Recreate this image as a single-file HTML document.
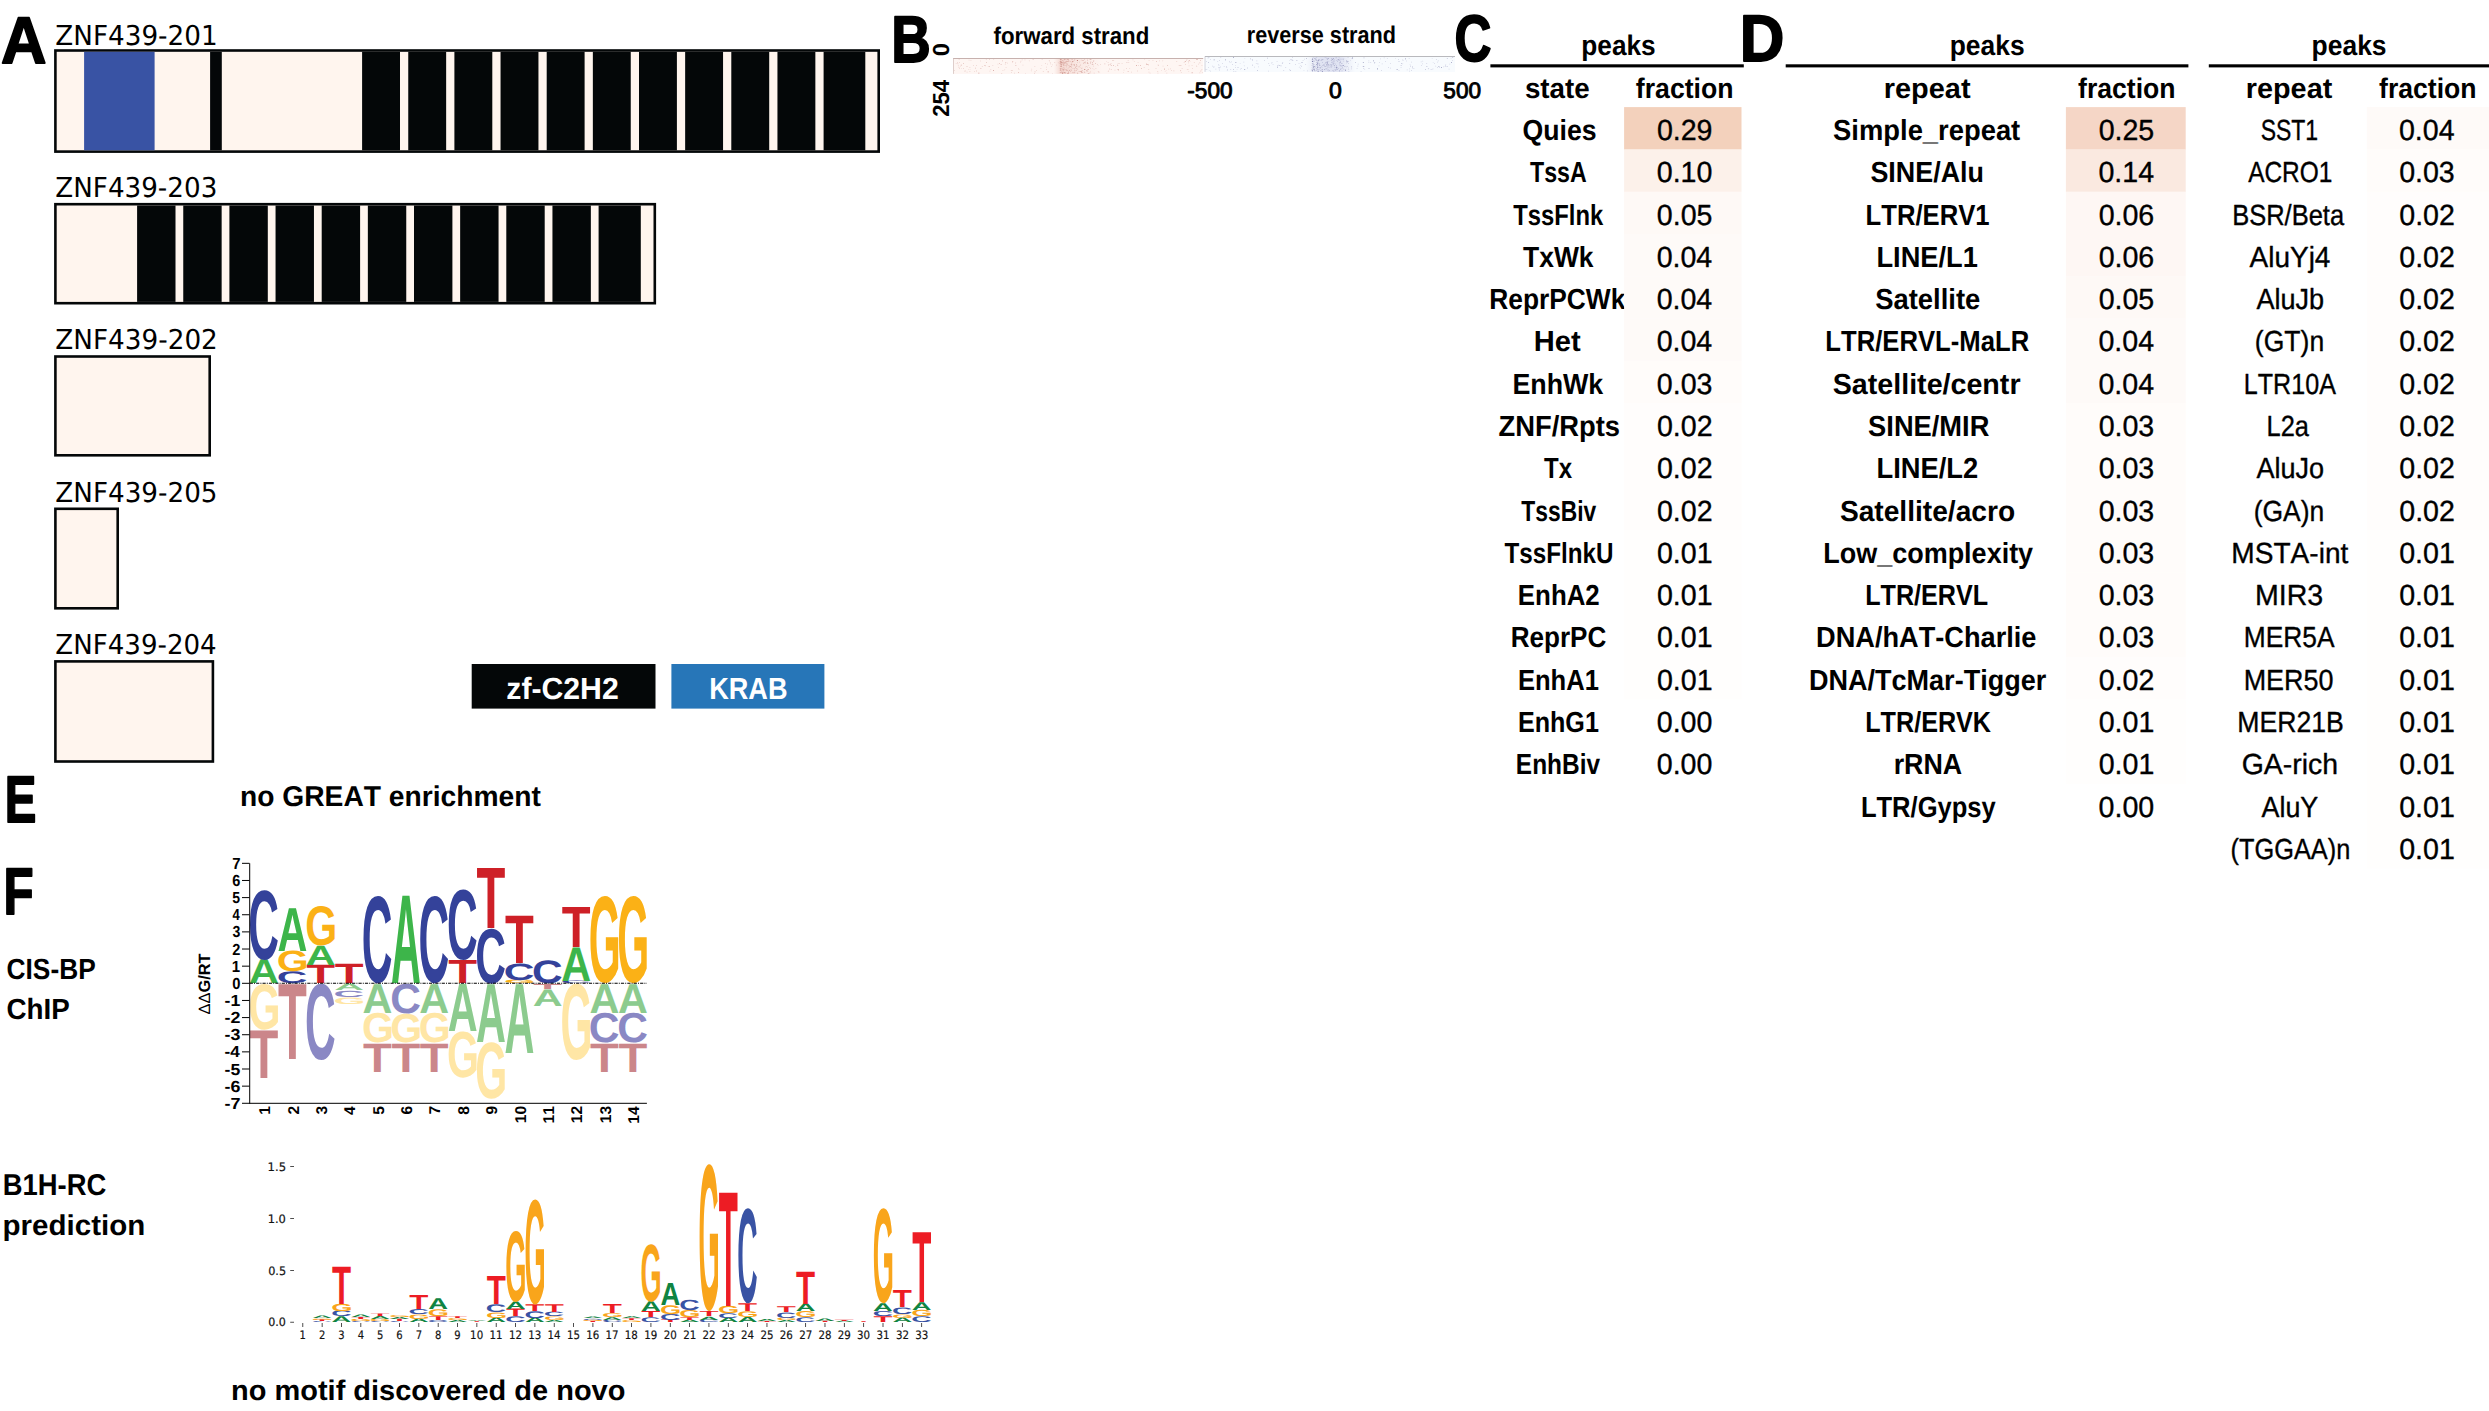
<!DOCTYPE html>
<html><head><meta charset="utf-8"><title>ZNF439</title>
<style>html,body{margin:0;padding:0;background:#fff}body{width:2489px;height:1411px;overflow:hidden}</style></head>
<body>
<svg width="2489" height="1411" viewBox="0 0 2489 1411" style="display:block;font-kerning:none;text-rendering:geometricPrecision">
<defs>
</defs>
<rect x="0.00" y="0.00" width="2489.00" height="1411.00" fill="#fff"/>
<text x="1.03" y="63.20" font-family='"Liberation Sans", sans-serif' font-weight="bold" font-size="65.80" textLength="45.53" lengthAdjust="spacingAndGlyphs" fill="#000" stroke="#000" stroke-width="1.8" stroke-linejoin="round">A</text>
<text x="891.14" y="62.20" font-family='"Liberation Sans", sans-serif' font-weight="bold" font-size="65.80" textLength="39.55" lengthAdjust="spacingAndGlyphs" fill="#000" stroke="#000" stroke-width="1.8" stroke-linejoin="round">B</text>
<text x="1454.60" y="60.56" font-family='"Liberation Sans", sans-serif' font-weight="bold" font-size="65.80" textLength="36.95" lengthAdjust="spacingAndGlyphs" fill="#000" stroke="#000" stroke-width="1.8" stroke-linejoin="round">C</text>
<text x="1739.77" y="61.00" font-family='"Liberation Sans", sans-serif' font-weight="bold" font-size="65.80" textLength="44.63" lengthAdjust="spacingAndGlyphs" fill="#000" stroke="#000" stroke-width="1.8" stroke-linejoin="round">D</text>
<text x="4.63" y="822.40" font-family='"Liberation Sans", sans-serif' font-weight="bold" font-size="65.80" textLength="31.62" lengthAdjust="spacingAndGlyphs" fill="#000" stroke="#000" stroke-width="1.8" stroke-linejoin="round">E</text>
<text x="3.60" y="913.90" font-family='"Liberation Sans", sans-serif' font-weight="bold" font-size="65.80" textLength="30.10" lengthAdjust="spacingAndGlyphs" fill="#000" stroke="#000" stroke-width="1.8" stroke-linejoin="round">F</text>
<text x="55.32" y="44.90" font-family='"DejaVu Sans", sans-serif' font-weight="normal" font-size="27.40" textLength="162.30" lengthAdjust="spacingAndGlyphs" fill="#000">ZNF439-201</text>
<text x="55.32" y="197.10" font-family='"DejaVu Sans", sans-serif' font-weight="normal" font-size="27.40" textLength="161.97" lengthAdjust="spacingAndGlyphs" fill="#000">ZNF439-203</text>
<text x="55.32" y="349.30" font-family='"DejaVu Sans", sans-serif' font-weight="normal" font-size="27.40" textLength="162.51" lengthAdjust="spacingAndGlyphs" fill="#000">ZNF439-202</text>
<text x="55.32" y="501.50" font-family='"DejaVu Sans", sans-serif' font-weight="normal" font-size="27.40" textLength="162.17" lengthAdjust="spacingAndGlyphs" fill="#000">ZNF439-205</text>
<text x="55.33" y="653.70" font-family='"DejaVu Sans", sans-serif' font-weight="normal" font-size="27.40" textLength="161.34" lengthAdjust="spacingAndGlyphs" fill="#000">ZNF439-204</text>
<rect x="54.10" y="49.20" width="825.90" height="103.70" fill="#040708"/>
<rect x="56.70" y="51.80" width="820.70" height="98.50" fill="#fff5ee"/>
<rect x="84.10" y="51.80" width="70.50" height="98.50" fill="#3953a4"/>
<rect x="210.10" y="51.80" width="11.70" height="98.50" fill="#040708"/>
<rect x="362.10" y="51.80" width="37.90" height="98.50" fill="#040708"/>
<rect x="408.25" y="51.80" width="37.90" height="98.50" fill="#040708"/>
<rect x="454.40" y="51.80" width="37.90" height="98.50" fill="#040708"/>
<rect x="500.55" y="51.80" width="37.90" height="98.50" fill="#040708"/>
<rect x="546.70" y="51.80" width="37.90" height="98.50" fill="#040708"/>
<rect x="592.85" y="51.80" width="37.90" height="98.50" fill="#040708"/>
<rect x="639.00" y="51.80" width="37.90" height="98.50" fill="#040708"/>
<rect x="685.15" y="51.80" width="37.90" height="98.50" fill="#040708"/>
<rect x="731.30" y="51.80" width="37.90" height="98.50" fill="#040708"/>
<rect x="777.45" y="51.80" width="37.90" height="98.50" fill="#040708"/>
<rect x="823.60" y="51.80" width="41.70" height="98.50" fill="#040708"/>
<rect x="54.10" y="202.90" width="602.00" height="101.60" fill="#040708"/>
<rect x="56.70" y="205.50" width="596.80" height="96.40" fill="#fff5ee"/>
<rect x="137.10" y="205.50" width="38.40" height="96.40" fill="#040708"/>
<rect x="183.25" y="205.50" width="38.40" height="96.40" fill="#040708"/>
<rect x="229.40" y="205.50" width="38.40" height="96.40" fill="#040708"/>
<rect x="275.55" y="205.50" width="38.40" height="96.40" fill="#040708"/>
<rect x="321.70" y="205.50" width="38.40" height="96.40" fill="#040708"/>
<rect x="367.85" y="205.50" width="38.40" height="96.40" fill="#040708"/>
<rect x="414.00" y="205.50" width="38.40" height="96.40" fill="#040708"/>
<rect x="460.15" y="205.50" width="38.40" height="96.40" fill="#040708"/>
<rect x="506.30" y="205.50" width="38.40" height="96.40" fill="#040708"/>
<rect x="552.45" y="205.50" width="38.40" height="96.40" fill="#040708"/>
<rect x="598.60" y="205.50" width="42.20" height="96.40" fill="#040708"/>
<rect x="54.10" y="355.20" width="156.90" height="101.40" fill="#040708"/>
<rect x="56.70" y="357.80" width="151.70" height="96.20" fill="#fff5ee"/>
<rect x="54.10" y="507.50" width="64.90" height="102.10" fill="#040708"/>
<rect x="56.70" y="510.10" width="59.70" height="96.90" fill="#fff5ee"/>
<rect x="54.10" y="660.10" width="160.10" height="102.70" fill="#040708"/>
<rect x="56.70" y="662.70" width="154.90" height="97.50" fill="#fff5ee"/>
<rect x="471.70" y="664.00" width="183.80" height="44.60" fill="#040708"/>
<rect x="671.40" y="664.00" width="153.00" height="44.60" fill="#2776b8"/>
<text x="506.29" y="698.70" font-family='"Liberation Sans", sans-serif' font-weight="bold" font-size="30.60" textLength="112.42" lengthAdjust="spacingAndGlyphs" fill="#fff">zf-C2H2</text>
<text x="709.19" y="698.70" font-family='"Liberation Sans", sans-serif' font-weight="bold" font-size="30.60" textLength="78.35" lengthAdjust="spacingAndGlyphs" fill="#fff">KRAB</text>
<defs><linearGradient id="gf" x1="0" x2="1" y1="0" y2="0"><stop offset="0" stop-color="#f3d6cf" stop-opacity="0"/><stop offset="0.15" stop-color="#f0cdc5" stop-opacity="0.75"/><stop offset="0.5" stop-color="#f3d6cf" stop-opacity="0.45"/><stop offset="1" stop-color="#f3d6cf" stop-opacity="0"/></linearGradient>
<linearGradient id="gr" x1="0" x2="1" y1="0" y2="0"><stop offset="0" stop-color="#d5d8ec" stop-opacity="0"/><stop offset="0.3" stop-color="#d0d3ea" stop-opacity="0.6"/><stop offset="0.7" stop-color="#d0d3ea" stop-opacity="0.6"/><stop offset="1" stop-color="#d5d8ec" stop-opacity="0"/></linearGradient></defs>
<rect x="953.20" y="58.00" width="250.00" height="15.90" fill="#fef6f3"/>
<rect x="1053.8" y="58.00" width="48.2" height="15.90" fill="url(#gf)"/>
<path d="M1061.6 68.2h0.7v0.7h-0.7zM1073.1 64.1h0.7v0.7h-0.7zM1072.0 59.3h0.7v0.7h-0.7zM970.6 60.1h0.7v0.7h-0.7zM1159.3 60.6h0.7v0.7h-0.7zM1077.0 72.4h0.7v0.7h-0.7zM1052.1 72.9h0.7v0.7h-0.7zM1088.2 63.0h0.7v0.7h-0.7zM1061.0 63.2h0.7v0.7h-0.7zM998.3 67.2h0.7v0.7h-0.7zM1046.0 66.7h0.7v0.7h-0.7zM1060.2 61.8h0.7v0.7h-0.7zM1059.8 63.3h0.7v0.7h-0.7zM1066.2 63.1h0.7v0.7h-0.7zM1127.5 62.3h0.7v0.7h-0.7zM1084.1 71.4h0.7v0.7h-0.7zM1025.0 72.9h0.7v0.7h-0.7zM1068.8 69.7h0.7v0.7h-0.7zM1071.3 59.4h0.7v0.7h-0.7zM1143.8 67.1h0.7v0.7h-0.7zM1031.4 68.8h0.7v0.7h-0.7zM1097.8 65.4h0.7v0.7h-0.7zM1188.7 65.6h0.7v0.7h-0.7zM968.3 68.9h0.7v0.7h-0.7zM1200.8 70.6h0.7v0.7h-0.7zM1067.7 68.4h0.7v0.7h-0.7zM1070.3 61.2h0.7v0.7h-0.7zM1060.2 69.9h0.7v0.7h-0.7zM1063.7 64.4h0.7v0.7h-0.7zM973.3 65.3h0.7v0.7h-0.7zM1173.4 70.6h0.7v0.7h-0.7zM1022.6 64.8h0.7v0.7h-0.7zM1089.5 72.6h0.7v0.7h-0.7zM1062.1 62.1h0.7v0.7h-0.7zM1071.2 67.3h0.7v0.7h-0.7zM1059.8 64.8h0.7v0.7h-0.7zM1074.4 72.5h0.7v0.7h-0.7zM1081.7 67.7h0.7v0.7h-0.7zM966.7 71.8h0.7v0.7h-0.7zM1171.2 70.3h0.7v0.7h-0.7zM1068.1 60.3h0.7v0.7h-0.7zM968.7 59.8h0.7v0.7h-0.7zM1061.8 63.7h0.7v0.7h-0.7zM1059.8 61.0h0.7v0.7h-0.7zM1067.0 59.2h0.7v0.7h-0.7zM1106.3 60.9h0.7v0.7h-0.7zM1066.5 64.0h0.7v0.7h-0.7zM1087.7 73.1h0.7v0.7h-0.7zM1073.8 60.0h0.7v0.7h-0.7zM1066.3 62.6h0.7v0.7h-0.7zM993.4 59.1h0.7v0.7h-0.7zM1084.9 60.9h0.7v0.7h-0.7zM959.9 66.4h0.7v0.7h-0.7zM1168.4 68.8h0.7v0.7h-0.7zM1067.1 61.2h0.7v0.7h-0.7zM1086.0 70.0h0.7v0.7h-0.7zM1063.1 70.5h0.7v0.7h-0.7zM1165.8 70.4h0.7v0.7h-0.7zM1137.7 62.1h0.7v0.7h-0.7zM1041.8 59.2h0.7v0.7h-0.7zM1064.5 62.5h0.7v0.7h-0.7zM1191.7 65.2h0.7v0.7h-0.7zM1199.5 72.6h0.7v0.7h-0.7zM1063.0 62.1h0.7v0.7h-0.7zM1062.7 67.8h0.7v0.7h-0.7zM1162.7 65.7h0.7v0.7h-0.7zM1152.6 60.0h0.7v0.7h-0.7zM1180.0 70.1h0.7v0.7h-0.7zM1072.4 61.4h0.7v0.7h-0.7zM1036.1 70.3h0.7v0.7h-0.7zM1051.9 64.6h0.7v0.7h-0.7zM1133.9 61.2h0.7v0.7h-0.7zM1061.6 71.8h0.7v0.7h-0.7zM989.6 70.7h0.7v0.7h-0.7zM1117.1 63.8h0.7v0.7h-0.7zM985.9 59.0h0.7v0.7h-0.7zM1115.2 66.4h0.7v0.7h-0.7zM1061.3 71.4h0.7v0.7h-0.7zM1005.8 62.4h0.7v0.7h-0.7zM1063.5 67.2h0.7v0.7h-0.7zM1068.8 60.7h0.7v0.7h-0.7zM1041.4 65.4h0.7v0.7h-0.7zM1178.6 64.9h0.7v0.7h-0.7zM1078.3 66.5h0.7v0.7h-0.7zM957.9 65.1h0.7v0.7h-0.7zM1059.8 70.3h0.7v0.7h-0.7zM1070.7 69.2h0.7v0.7h-0.7zM1034.5 66.3h0.7v0.7h-0.7zM1148.7 60.3h0.7v0.7h-0.7zM1015.1 62.8h0.7v0.7h-0.7zM1079.8 66.9h0.7v0.7h-0.7zM1180.7 65.2h0.7v0.7h-0.7zM1079.2 66.2h0.7v0.7h-0.7zM1066.0 66.5h0.7v0.7h-0.7zM1187.9 68.9h0.7v0.7h-0.7zM1188.1 62.5h0.7v0.7h-0.7zM1188.4 70.9h0.7v0.7h-0.7zM1061.0 65.2h0.7v0.7h-0.7zM1063.5 59.9h0.7v0.7h-0.7zM1148.6 71.7h0.7v0.7h-0.7zM1081.0 68.3h0.7v0.7h-0.7zM1089.5 72.7h0.7v0.7h-0.7zM1093.3 64.5h0.7v0.7h-0.7zM1200.0 70.8h0.7v0.7h-0.7zM1069.2 66.2h0.7v0.7h-0.7zM1062.5 63.4h0.7v0.7h-0.7zM958.1 66.8h0.7v0.7h-0.7zM957.7 63.6h0.7v0.7h-0.7zM1080.9 59.7h0.7v0.7h-0.7zM1149.7 72.8h0.7v0.7h-0.7zM1064.1 59.4h0.7v0.7h-0.7zM1020.6 60.7h0.7v0.7h-0.7zM1180.4 70.6h0.7v0.7h-0.7zM1061.5 72.0h0.7v0.7h-0.7zM1127.8 60.1h0.7v0.7h-0.7zM1079.7 64.9h0.7v0.7h-0.7zM1092.5 67.9h0.7v0.7h-0.7zM974.1 71.1h0.7v0.7h-0.7zM1088.4 65.3h0.7v0.7h-0.7zM1073.8 72.1h0.7v0.7h-0.7zM1061.2 66.4h0.7v0.7h-0.7zM1060.9 61.1h0.7v0.7h-0.7zM1062.6 63.3h0.7v0.7h-0.7zM1083.1 63.0h0.7v0.7h-0.7zM997.6 63.8h0.7v0.7h-0.7zM1063.8 59.0h0.7v0.7h-0.7zM1090.6 61.5h0.7v0.7h-0.7zM1186.2 60.3h0.7v0.7h-0.7zM1060.9 65.9h0.7v0.7h-0.7zM1051.2 66.1h0.7v0.7h-0.7zM1198.1 63.7h0.7v0.7h-0.7zM1129.4 68.0h0.7v0.7h-0.7zM1066.5 59.6h0.7v0.7h-0.7zM1060.3 69.5h0.7v0.7h-0.7zM1061.8 60.0h0.7v0.7h-0.7zM1170.2 68.5h0.7v0.7h-0.7zM1063.5 63.0h0.7v0.7h-0.7zM992.5 65.2h0.7v0.7h-0.7zM1093.8 72.8h0.7v0.7h-0.7zM1014.1 72.7h0.7v0.7h-0.7zM1066.8 58.8h0.7v0.7h-0.7zM1070.8 66.0h0.7v0.7h-0.7zM1071.9 58.9h0.7v0.7h-0.7zM1060.6 64.6h0.7v0.7h-0.7zM1059.9 63.2h0.7v0.7h-0.7zM1075.2 66.4h0.7v0.7h-0.7zM1117.1 69.1h0.7v0.7h-0.7zM1050.3 63.5h0.7v0.7h-0.7zM990.5 69.2h0.7v0.7h-0.7zM964.1 70.8h0.7v0.7h-0.7zM1109.6 69.4h0.7v0.7h-0.7zM987.9 66.3h0.7v0.7h-0.7zM1161.3 70.4h0.7v0.7h-0.7zM1098.8 71.7h0.7v0.7h-0.7zM1126.0 62.1h0.7v0.7h-0.7zM1061.2 64.0h0.7v0.7h-0.7zM1087.0 66.8h0.7v0.7h-0.7zM1109.3 68.6h0.7v0.7h-0.7zM954.0 70.3h0.7v0.7h-0.7zM1078.6 66.5h0.7v0.7h-0.7zM969.7 69.4h0.7v0.7h-0.7zM1060.4 62.6h0.7v0.7h-0.7zM1004.4 69.5h0.7v0.7h-0.7zM1076.3 64.3h0.7v0.7h-0.7zM1123.6 69.8h0.7v0.7h-0.7zM1113.4 59.9h0.7v0.7h-0.7zM1063.8 69.5h0.7v0.7h-0.7zM1074.4 59.0h0.7v0.7h-0.7zM1064.2 68.5h0.7v0.7h-0.7zM1121.7 63.0h0.7v0.7h-0.7zM1069.0 65.5h0.7v0.7h-0.7zM1090.0 61.7h0.7v0.7h-0.7zM1186.6 59.1h0.7v0.7h-0.7zM1157.6 72.7h0.7v0.7h-0.7zM1020.2 61.8h0.7v0.7h-0.7zM1005.7 67.2h0.7v0.7h-0.7zM1072.7 72.5h0.7v0.7h-0.7zM1086.2 66.1h0.7v0.7h-0.7zM1128.5 62.1h0.7v0.7h-0.7zM1074.4 59.2h0.7v0.7h-0.7zM1071.4 65.3h0.7v0.7h-0.7zM1061.4 63.8h0.7v0.7h-0.7zM1087.2 58.8h0.7v0.7h-0.7zM1162.4 60.5h0.7v0.7h-0.7zM1131.0 71.8h0.7v0.7h-0.7zM1067.2 64.5h0.7v0.7h-0.7zM1100.1 64.0h0.7v0.7h-0.7zM1021.8 59.5h0.7v0.7h-0.7zM1086.9 62.9h0.7v0.7h-0.7zM1015.4 62.6h0.7v0.7h-0.7zM1000.5 64.2h0.7v0.7h-0.7zM1173.6 70.5h0.7v0.7h-0.7zM1180.9 72.3h0.7v0.7h-0.7zM1132.6 59.5h0.7v0.7h-0.7zM1065.6 69.6h0.7v0.7h-0.7zM1024.6 59.5h0.7v0.7h-0.7zM984.9 65.6h0.7v0.7h-0.7zM1065.0 69.4h0.7v0.7h-0.7zM1018.1 68.2h0.7v0.7h-0.7zM1074.0 64.5h0.7v0.7h-0.7zM1061.8 61.8h0.7v0.7h-0.7zM1077.1 62.0h0.7v0.7h-0.7zM1201.6 65.3h0.7v0.7h-0.7zM1062.4 60.1h0.7v0.7h-0.7zM1060.6 62.2h0.7v0.7h-0.7zM1074.5 71.6h0.7v0.7h-0.7zM1056.1 64.8h0.7v0.7h-0.7zM1047.2 63.7h0.7v0.7h-0.7zM1064.5 72.7h0.7v0.7h-0.7zM1071.9 67.9h0.7v0.7h-0.7zM1007.0 62.7h0.7v0.7h-0.7zM1068.1 65.2h0.7v0.7h-0.7zM1164.8 71.4h0.7v0.7h-0.7zM1059.9 69.0h0.7v0.7h-0.7zM1071.2 67.3h0.7v0.7h-0.7zM1067.9 72.1h0.7v0.7h-0.7zM1166.5 72.8h0.7v0.7h-0.7zM1060.8 61.0h0.7v0.7h-0.7zM1123.2 72.4h0.7v0.7h-0.7zM1114.6 69.8h0.7v0.7h-0.7zM1090.7 59.4h0.7v0.7h-0.7zM1011.2 72.0h0.7v0.7h-0.7zM1028.9 60.6h0.7v0.7h-0.7zM1077.4 68.9h0.7v0.7h-0.7zM1060.3 66.4h0.7v0.7h-0.7zM1049.9 62.0h0.7v0.7h-0.7zM955.8 63.1h0.7v0.7h-0.7zM1192.3 68.1h0.7v0.7h-0.7zM1071.7 62.2h0.7v0.7h-0.7zM1093.7 68.9h0.7v0.7h-0.7zM1059.9 66.0h0.7v0.7h-0.7zM1057.9 62.5h0.7v0.7h-0.7zM1183.8 62.1h0.7v0.7h-0.7zM1066.2 64.9h0.7v0.7h-0.7zM1002.6 70.3h0.7v0.7h-0.7zM1079.1 61.8h0.7v0.7h-0.7zM1030.9 70.6h0.7v0.7h-0.7zM1063.0 69.8h0.7v0.7h-0.7zM1093.3 65.9h0.7v0.7h-0.7zM1063.1 64.8h0.7v0.7h-0.7zM1189.7 60.9h0.7v0.7h-0.7zM1062.8 72.8h0.7v0.7h-0.7zM1060.1 59.7h0.7v0.7h-0.7zM1090.3 71.5h0.7v0.7h-0.7zM1201.9 72.2h0.7v0.7h-0.7zM1062.2 72.3h0.7v0.7h-0.7zM961.2 68.4h0.7v0.7h-0.7zM1067.3 63.6h0.7v0.7h-0.7zM1059.8 62.8h0.7v0.7h-0.7zM1093.5 60.6h0.7v0.7h-0.7zM1004.9 63.9h0.7v0.7h-0.7zM1158.1 65.0h0.7v0.7h-0.7zM1070.7 64.2h0.7v0.7h-0.7zM1001.3 64.0h0.7v0.7h-0.7zM960.7 64.7h0.7v0.7h-0.7zM1144.3 59.4h0.7v0.7h-0.7zM1060.2 72.0h0.7v0.7h-0.7zM1082.5 71.7h0.7v0.7h-0.7zM1064.3 72.6h0.7v0.7h-0.7zM1018.6 69.1h0.7v0.7h-0.7z" fill="#a8483e" fill-opacity="0.25"/>
<path d="M1064.4 58.9h0.6v0.6h-0.6zM1181.8 68.0h0.6v0.6h-0.6zM959.2 62.2h0.6v0.6h-0.6zM1191.8 72.6h0.6v0.6h-0.6zM1063.8 65.0h0.6v0.6h-0.6zM1184.7 61.5h0.6v0.6h-0.6zM1137.4 70.7h0.6v0.6h-0.6zM1104.6 63.6h0.6v0.6h-0.6zM1066.9 70.1h0.6v0.6h-0.6zM1062.5 69.7h0.6v0.6h-0.6zM1060.3 59.3h0.6v0.6h-0.6zM1034.4 73.0h0.6v0.6h-0.6zM1199.6 62.6h0.6v0.6h-0.6zM1060.7 66.0h0.6v0.6h-0.6zM1064.7 62.2h0.6v0.6h-0.6zM1076.7 68.6h0.6v0.6h-0.6zM1164.4 68.4h0.6v0.6h-0.6zM1087.2 63.1h0.6v0.6h-0.6zM1046.2 69.5h0.6v0.6h-0.6zM1063.7 62.4h0.6v0.6h-0.6zM1089.5 67.2h0.6v0.6h-0.6zM1068.0 73.2h0.6v0.6h-0.6zM1010.9 70.5h0.6v0.6h-0.6zM1200.3 60.3h0.6v0.6h-0.6zM1157.5 71.0h0.6v0.6h-0.6zM963.3 63.1h0.6v0.6h-0.6zM1062.3 72.9h0.6v0.6h-0.6zM1185.2 64.2h0.6v0.6h-0.6zM1065.2 62.6h0.6v0.6h-0.6zM1189.1 60.3h0.6v0.6h-0.6zM1107.8 62.0h0.6v0.6h-0.6zM1061.4 61.8h0.6v0.6h-0.6zM1075.8 68.2h0.6v0.6h-0.6zM1059.8 63.5h0.6v0.6h-0.6zM999.4 63.3h0.6v0.6h-0.6zM1084.9 66.7h0.6v0.6h-0.6zM1060.7 64.5h0.6v0.6h-0.6zM1112.6 60.1h0.6v0.6h-0.6zM1080.0 64.7h0.6v0.6h-0.6zM1065.3 72.6h0.6v0.6h-0.6zM1074.4 64.0h0.6v0.6h-0.6zM1088.5 73.3h0.6v0.6h-0.6zM1062.5 69.4h0.6v0.6h-0.6zM1059.8 71.9h0.6v0.6h-0.6zM1157.8 64.7h0.6v0.6h-0.6zM1068.2 61.2h0.6v0.6h-0.6zM1073.8 68.1h0.6v0.6h-0.6zM975.4 67.8h0.6v0.6h-0.6zM1071.9 60.9h0.6v0.6h-0.6zM1072.6 72.2h0.6v0.6h-0.6zM1071.4 70.5h0.6v0.6h-0.6zM1002.4 60.6h0.6v0.6h-0.6zM1196.5 65.8h0.6v0.6h-0.6zM1091.8 64.4h0.6v0.6h-0.6zM1107.9 70.8h0.6v0.6h-0.6zM1084.4 62.0h0.6v0.6h-0.6zM1087.5 70.8h0.6v0.6h-0.6zM1063.0 64.6h0.6v0.6h-0.6zM1048.9 60.6h0.6v0.6h-0.6zM1081.4 71.8h0.6v0.6h-0.6zM1074.2 69.8h0.6v0.6h-0.6zM1087.1 60.5h0.6v0.6h-0.6zM1090.4 67.9h0.6v0.6h-0.6zM1068.8 67.2h0.6v0.6h-0.6zM1117.5 65.3h0.6v0.6h-0.6zM959.0 67.8h0.6v0.6h-0.6zM1011.9 69.9h0.6v0.6h-0.6zM1067.5 61.4h0.6v0.6h-0.6zM979.9 60.7h0.6v0.6h-0.6zM976.1 65.2h0.6v0.6h-0.6zM963.4 68.0h0.6v0.6h-0.6zM1081.8 70.1h0.6v0.6h-0.6zM966.7 66.1h0.6v0.6h-0.6zM1093.2 60.8h0.6v0.6h-0.6zM1201.6 69.4h0.6v0.6h-0.6zM1001.5 73.0h0.6v0.6h-0.6zM1191.8 72.1h0.6v0.6h-0.6zM1084.5 72.3h0.6v0.6h-0.6zM1066.6 69.8h0.6v0.6h-0.6zM1090.2 62.8h0.6v0.6h-0.6zM989.0 66.1h0.6v0.6h-0.6zM1005.2 62.6h0.6v0.6h-0.6zM1032.8 59.3h0.6v0.6h-0.6zM1061.8 72.4h0.6v0.6h-0.6zM1176.5 61.2h0.6v0.6h-0.6zM981.9 66.5h0.6v0.6h-0.6zM1042.9 71.5h0.6v0.6h-0.6zM1097.9 71.6h0.6v0.6h-0.6zM1095.6 67.9h0.6v0.6h-0.6zM1085.0 62.6h0.6v0.6h-0.6zM1097.2 64.0h0.6v0.6h-0.6zM1063.5 61.4h0.6v0.6h-0.6zM965.2 70.7h0.6v0.6h-0.6zM1077.5 73.1h0.6v0.6h-0.6zM1118.7 63.3h0.6v0.6h-0.6zM1060.0 61.0h0.6v0.6h-0.6zM1061.0 66.2h0.6v0.6h-0.6zM986.1 62.1h0.6v0.6h-0.6zM958.8 58.8h0.6v0.6h-0.6zM1060.8 64.0h0.6v0.6h-0.6zM1075.1 67.3h0.6v0.6h-0.6zM1076.8 65.7h0.6v0.6h-0.6zM1092.4 62.3h0.6v0.6h-0.6zM1060.6 68.1h0.6v0.6h-0.6zM1148.3 64.6h0.6v0.6h-0.6zM1059.8 68.2h0.6v0.6h-0.6zM1040.6 68.2h0.6v0.6h-0.6zM1186.9 69.4h0.6v0.6h-0.6zM1090.6 59.4h0.6v0.6h-0.6zM1054.5 62.2h0.6v0.6h-0.6zM1084.1 59.0h0.6v0.6h-0.6zM1187.9 60.9h0.6v0.6h-0.6zM1076.1 66.2h0.6v0.6h-0.6zM1156.1 61.3h0.6v0.6h-0.6zM1065.1 59.5h0.6v0.6h-0.6zM1148.5 69.2h0.6v0.6h-0.6zM1087.4 69.6h0.6v0.6h-0.6zM1138.2 65.4h0.6v0.6h-0.6zM1060.8 62.2h0.6v0.6h-0.6zM1066.1 69.7h0.6v0.6h-0.6zM1164.0 69.1h0.6v0.6h-0.6zM1073.9 65.1h0.6v0.6h-0.6zM1083.7 62.6h0.6v0.6h-0.6zM1193.9 61.9h0.6v0.6h-0.6zM957.0 62.6h0.6v0.6h-0.6zM1082.3 72.5h0.6v0.6h-0.6zM1034.7 71.6h0.6v0.6h-0.6zM1063.5 72.0h0.6v0.6h-0.6zM1126.0 68.4h0.6v0.6h-0.6zM1070.3 71.0h0.6v0.6h-0.6zM1167.1 65.1h0.6v0.6h-0.6zM1095.4 63.3h0.6v0.6h-0.6zM1076.8 59.9h0.6v0.6h-0.6zM989.3 59.2h0.6v0.6h-0.6zM1092.0 63.8h0.6v0.6h-0.6zM1059.9 59.4h0.6v0.6h-0.6zM1111.3 68.9h0.6v0.6h-0.6zM969.6 67.4h0.6v0.6h-0.6zM1086.0 70.7h0.6v0.6h-0.6zM969.6 71.4h0.6v0.6h-0.6zM1188.7 60.4h0.6v0.6h-0.6zM1060.9 59.3h0.6v0.6h-0.6zM1155.7 68.0h0.6v0.6h-0.6zM1110.7 63.0h0.6v0.6h-0.6zM1060.7 69.8h0.6v0.6h-0.6zM1065.6 64.9h0.6v0.6h-0.6zM1063.9 62.9h0.6v0.6h-0.6zM1045.0 63.5h0.6v0.6h-0.6zM1078.8 71.1h0.6v0.6h-0.6zM960.9 64.8h0.6v0.6h-0.6z" fill="#a8483e" fill-opacity="0.5"/>
<path d="M1146.0 63.8h0.6v0.6h-0.6zM1087.3 61.9h0.6v0.6h-0.6zM975.9 70.7h0.6v0.6h-0.6zM1059.8 61.7h0.6v0.6h-0.6zM1197.1 58.9h0.6v0.6h-0.6zM1075.8 70.4h0.6v0.6h-0.6zM1071.5 63.8h0.6v0.6h-0.6zM1018.2 72.5h0.6v0.6h-0.6zM1062.9 68.9h0.6v0.6h-0.6zM980.6 68.0h0.6v0.6h-0.6zM1084.5 68.9h0.6v0.6h-0.6zM1109.8 64.0h0.6v0.6h-0.6zM1068.0 71.7h0.6v0.6h-0.6zM1089.8 59.2h0.6v0.6h-0.6zM1064.1 71.9h0.6v0.6h-0.6zM1047.8 71.6h0.6v0.6h-0.6zM1070.3 66.5h0.6v0.6h-0.6zM1141.0 68.2h0.6v0.6h-0.6zM1065.8 61.1h0.6v0.6h-0.6zM1118.3 69.6h0.6v0.6h-0.6zM1069.5 70.0h0.6v0.6h-0.6zM984.6 65.5h0.6v0.6h-0.6zM1012.5 61.6h0.6v0.6h-0.6zM1080.4 71.0h0.6v0.6h-0.6zM1061.7 62.4h0.6v0.6h-0.6zM1072.6 61.1h0.6v0.6h-0.6zM1062.3 72.9h0.6v0.6h-0.6zM978.6 72.8h0.6v0.6h-0.6zM1067.6 73.1h0.6v0.6h-0.6zM1136.1 65.1h0.6v0.6h-0.6zM1077.4 60.3h0.6v0.6h-0.6zM1067.8 59.3h0.6v0.6h-0.6zM1084.7 68.9h0.6v0.6h-0.6zM1110.9 65.5h0.6v0.6h-0.6zM1075.9 64.7h0.6v0.6h-0.6zM1179.7 65.0h0.6v0.6h-0.6zM1140.0 64.9h0.6v0.6h-0.6zM1081.3 71.6h0.6v0.6h-0.6zM1127.8 71.2h0.6v0.6h-0.6zM1113.2 65.4h0.6v0.6h-0.6zM1077.0 60.2h0.6v0.6h-0.6zM1084.2 69.1h0.6v0.6h-0.6zM1015.6 64.9h0.6v0.6h-0.6zM1108.2 64.7h0.6v0.6h-0.6zM1185.2 61.5h0.6v0.6h-0.6zM1147.3 64.4h0.6v0.6h-0.6zM1196.3 59.4h0.6v0.6h-0.6zM993.3 70.1h0.6v0.6h-0.6zM1082.7 60.3h0.6v0.6h-0.6zM1088.1 69.2h0.6v0.6h-0.6z" fill="#a8483e" fill-opacity="0.85"/>
<rect x="953.20" y="58.00" width="250.00" height="0.80" fill="#b9a19d"/>
<rect x="953.00" y="58.00" width="0.60" height="15.90" fill="#c9b3af"/>
<rect x="1205.00" y="56.20" width="250.00" height="15.70" fill="#f8fbfe"/>
<rect x="1305.7" y="56.20" width="49.3" height="15.70" fill="url(#gr)"/>
<path d="M1364.4 68.8h0.7v0.7h-0.7zM1307.3 70.5h0.7v0.7h-0.7zM1332.0 62.6h0.7v0.7h-0.7zM1235.5 71.0h0.7v0.7h-0.7zM1312.1 60.9h0.7v0.7h-0.7zM1311.7 62.9h0.7v0.7h-0.7zM1379.1 62.0h0.7v0.7h-0.7zM1315.1 67.5h0.7v0.7h-0.7zM1336.4 60.1h0.7v0.7h-0.7zM1302.7 60.0h0.7v0.7h-0.7zM1336.6 68.5h0.7v0.7h-0.7zM1322.0 65.0h0.7v0.7h-0.7zM1346.9 62.0h0.7v0.7h-0.7zM1409.1 68.6h0.7v0.7h-0.7zM1278.4 64.8h0.7v0.7h-0.7zM1339.6 62.0h0.7v0.7h-0.7zM1271.7 62.3h0.7v0.7h-0.7zM1321.2 59.6h0.7v0.7h-0.7zM1333.8 61.0h0.7v0.7h-0.7zM1317.2 63.8h0.7v0.7h-0.7zM1363.9 66.4h0.7v0.7h-0.7zM1344.8 69.1h0.7v0.7h-0.7zM1339.3 69.9h0.7v0.7h-0.7zM1240.0 68.8h0.7v0.7h-0.7zM1208.7 57.2h0.7v0.7h-0.7zM1368.5 60.6h0.7v0.7h-0.7zM1313.4 60.3h0.7v0.7h-0.7zM1291.4 59.2h0.7v0.7h-0.7zM1402.4 59.4h0.7v0.7h-0.7zM1356.7 68.1h0.7v0.7h-0.7zM1427.9 68.2h0.7v0.7h-0.7zM1254.2 66.8h0.7v0.7h-0.7zM1390.0 63.2h0.7v0.7h-0.7zM1343.4 60.8h0.7v0.7h-0.7zM1313.3 64.0h0.7v0.7h-0.7zM1322.7 59.1h0.7v0.7h-0.7zM1329.2 64.7h0.7v0.7h-0.7zM1206.6 68.9h0.7v0.7h-0.7zM1345.2 66.4h0.7v0.7h-0.7zM1298.5 62.9h0.7v0.7h-0.7zM1223.8 66.0h0.7v0.7h-0.7zM1212.1 65.7h0.7v0.7h-0.7zM1437.2 61.7h0.7v0.7h-0.7zM1332.3 63.9h0.7v0.7h-0.7zM1213.5 67.2h0.7v0.7h-0.7zM1289.4 69.2h0.7v0.7h-0.7zM1323.0 64.5h0.7v0.7h-0.7zM1257.5 63.2h0.7v0.7h-0.7zM1343.1 68.7h0.7v0.7h-0.7zM1339.3 62.7h0.7v0.7h-0.7zM1272.7 64.2h0.7v0.7h-0.7zM1368.2 68.2h0.7v0.7h-0.7zM1317.6 61.2h0.7v0.7h-0.7zM1363.3 68.1h0.7v0.7h-0.7zM1333.9 69.6h0.7v0.7h-0.7zM1217.4 61.3h0.7v0.7h-0.7zM1314.3 70.1h0.7v0.7h-0.7zM1369.0 68.2h0.7v0.7h-0.7zM1357.5 65.8h0.7v0.7h-0.7zM1378.6 65.5h0.7v0.7h-0.7zM1258.0 66.5h0.7v0.7h-0.7zM1395.1 58.4h0.7v0.7h-0.7zM1311.9 68.0h0.7v0.7h-0.7zM1368.5 62.2h0.7v0.7h-0.7zM1401.1 65.0h0.7v0.7h-0.7zM1317.2 63.0h0.7v0.7h-0.7zM1321.4 66.1h0.7v0.7h-0.7zM1218.6 65.1h0.7v0.7h-0.7zM1312.9 68.5h0.7v0.7h-0.7zM1434.0 63.3h0.7v0.7h-0.7zM1319.9 65.4h0.7v0.7h-0.7zM1449.5 63.8h0.7v0.7h-0.7zM1312.7 66.2h0.7v0.7h-0.7zM1313.5 57.2h0.7v0.7h-0.7zM1332.0 58.7h0.7v0.7h-0.7zM1227.0 69.3h0.7v0.7h-0.7zM1311.8 67.2h0.7v0.7h-0.7zM1334.4 59.7h0.7v0.7h-0.7zM1336.5 67.1h0.7v0.7h-0.7zM1386.9 58.2h0.7v0.7h-0.7zM1381.8 63.5h0.7v0.7h-0.7zM1268.3 70.7h0.7v0.7h-0.7zM1207.8 57.2h0.7v0.7h-0.7zM1408.8 58.1h0.7v0.7h-0.7zM1334.2 59.4h0.7v0.7h-0.7zM1326.2 57.8h0.7v0.7h-0.7zM1327.1 63.2h0.7v0.7h-0.7zM1241.1 68.3h0.7v0.7h-0.7zM1330.2 65.9h0.7v0.7h-0.7zM1319.8 68.2h0.7v0.7h-0.7zM1400.6 65.0h0.7v0.7h-0.7zM1312.1 70.8h0.7v0.7h-0.7zM1411.3 61.7h0.7v0.7h-0.7zM1448.7 68.8h0.7v0.7h-0.7zM1281.9 63.1h0.7v0.7h-0.7zM1298.9 66.7h0.7v0.7h-0.7zM1428.4 68.5h0.7v0.7h-0.7zM1311.7 60.7h0.7v0.7h-0.7zM1351.3 68.6h0.7v0.7h-0.7zM1215.5 68.8h0.7v0.7h-0.7zM1421.2 65.1h0.7v0.7h-0.7zM1340.5 68.5h0.7v0.7h-0.7zM1432.8 61.9h0.7v0.7h-0.7zM1326.2 68.3h0.7v0.7h-0.7zM1335.2 70.2h0.7v0.7h-0.7zM1328.5 66.6h0.7v0.7h-0.7zM1256.5 60.6h0.7v0.7h-0.7zM1402.4 63.5h0.7v0.7h-0.7zM1338.1 68.0h0.7v0.7h-0.7zM1327.3 69.7h0.7v0.7h-0.7zM1335.1 63.8h0.7v0.7h-0.7zM1252.2 59.7h0.7v0.7h-0.7zM1332.8 62.2h0.7v0.7h-0.7zM1305.3 64.3h0.7v0.7h-0.7zM1312.0 71.2h0.7v0.7h-0.7zM1312.7 66.0h0.7v0.7h-0.7zM1243.9 65.5h0.7v0.7h-0.7zM1324.8 57.3h0.7v0.7h-0.7zM1348.4 69.3h0.7v0.7h-0.7zM1346.4 60.7h0.7v0.7h-0.7zM1311.2 70.4h0.7v0.7h-0.7zM1409.1 70.7h0.7v0.7h-0.7zM1311.9 59.9h0.7v0.7h-0.7zM1312.4 57.7h0.7v0.7h-0.7zM1422.1 63.5h0.7v0.7h-0.7zM1431.8 57.9h0.7v0.7h-0.7zM1304.1 58.7h0.7v0.7h-0.7zM1269.1 65.0h0.7v0.7h-0.7zM1443.4 66.5h0.7v0.7h-0.7zM1322.0 59.3h0.7v0.7h-0.7zM1452.2 60.1h0.7v0.7h-0.7zM1315.9 62.0h0.7v0.7h-0.7zM1430.5 68.9h0.7v0.7h-0.7zM1337.1 67.1h0.7v0.7h-0.7zM1450.7 57.8h0.7v0.7h-0.7zM1335.5 70.3h0.7v0.7h-0.7zM1279.5 65.4h0.7v0.7h-0.7zM1231.3 61.6h0.7v0.7h-0.7zM1313.0 63.8h0.7v0.7h-0.7zM1315.5 59.0h0.7v0.7h-0.7zM1208.1 67.2h0.7v0.7h-0.7zM1311.9 70.2h0.7v0.7h-0.7zM1345.1 69.3h0.7v0.7h-0.7zM1239.8 63.4h0.7v0.7h-0.7zM1344.8 69.0h0.7v0.7h-0.7zM1317.8 61.8h0.7v0.7h-0.7zM1324.1 65.9h0.7v0.7h-0.7zM1315.0 57.8h0.7v0.7h-0.7zM1343.0 59.1h0.7v0.7h-0.7zM1271.4 62.8h0.7v0.7h-0.7zM1316.3 68.9h0.7v0.7h-0.7zM1313.8 64.0h0.7v0.7h-0.7zM1343.4 58.6h0.7v0.7h-0.7zM1219.2 69.7h0.7v0.7h-0.7zM1257.6 63.8h0.7v0.7h-0.7zM1316.0 59.9h0.7v0.7h-0.7zM1348.5 71.2h0.7v0.7h-0.7zM1229.3 61.1h0.7v0.7h-0.7zM1219.3 67.3h0.7v0.7h-0.7zM1347.7 57.2h0.7v0.7h-0.7zM1290.0 59.0h0.7v0.7h-0.7zM1339.5 64.5h0.7v0.7h-0.7zM1321.6 70.0h0.7v0.7h-0.7zM1326.9 59.0h0.7v0.7h-0.7zM1336.3 67.1h0.7v0.7h-0.7zM1312.3 58.2h0.7v0.7h-0.7zM1328.5 60.9h0.7v0.7h-0.7zM1328.7 67.1h0.7v0.7h-0.7zM1350.3 59.9h0.7v0.7h-0.7zM1334.4 62.8h0.7v0.7h-0.7zM1218.8 68.5h0.7v0.7h-0.7zM1340.0 69.3h0.7v0.7h-0.7zM1208.9 69.9h0.7v0.7h-0.7zM1422.4 60.8h0.7v0.7h-0.7zM1339.5 62.2h0.7v0.7h-0.7zM1319.3 65.4h0.7v0.7h-0.7zM1324.8 63.3h0.7v0.7h-0.7zM1235.1 67.1h0.7v0.7h-0.7zM1420.8 61.6h0.7v0.7h-0.7zM1300.1 67.7h0.7v0.7h-0.7zM1341.7 70.5h0.7v0.7h-0.7zM1333.0 64.5h0.7v0.7h-0.7zM1210.2 70.7h0.7v0.7h-0.7zM1314.2 58.5h0.7v0.7h-0.7zM1338.7 57.4h0.7v0.7h-0.7zM1332.7 59.8h0.7v0.7h-0.7zM1328.1 65.2h0.7v0.7h-0.7zM1380.2 58.5h0.7v0.7h-0.7zM1383.8 57.6h0.7v0.7h-0.7zM1323.8 64.1h0.7v0.7h-0.7zM1313.0 62.8h0.7v0.7h-0.7zM1327.8 69.2h0.7v0.7h-0.7zM1327.0 67.6h0.7v0.7h-0.7zM1339.2 70.3h0.7v0.7h-0.7zM1321.0 68.9h0.7v0.7h-0.7zM1303.6 70.4h0.7v0.7h-0.7zM1289.4 60.4h0.7v0.7h-0.7zM1321.6 70.9h0.7v0.7h-0.7zM1432.6 68.6h0.7v0.7h-0.7zM1218.4 64.3h0.7v0.7h-0.7zM1437.9 60.5h0.7v0.7h-0.7zM1362.7 62.2h0.7v0.7h-0.7zM1222.3 63.1h0.7v0.7h-0.7zM1210.2 59.0h0.7v0.7h-0.7zM1398.6 70.3h0.7v0.7h-0.7zM1406.8 69.6h0.7v0.7h-0.7zM1213.6 66.1h0.7v0.7h-0.7zM1331.8 60.9h0.7v0.7h-0.7zM1435.4 65.8h0.7v0.7h-0.7zM1324.8 63.2h0.7v0.7h-0.7zM1276.7 61.3h0.7v0.7h-0.7zM1235.0 65.4h0.7v0.7h-0.7zM1333.1 60.8h0.7v0.7h-0.7zM1338.1 59.1h0.7v0.7h-0.7zM1313.1 61.2h0.7v0.7h-0.7zM1316.8 60.5h0.7v0.7h-0.7zM1325.9 68.9h0.7v0.7h-0.7zM1347.1 66.2h0.7v0.7h-0.7zM1333.3 63.5h0.7v0.7h-0.7zM1357.8 63.7h0.7v0.7h-0.7zM1315.6 60.1h0.7v0.7h-0.7zM1300.5 65.3h0.7v0.7h-0.7zM1318.7 69.2h0.7v0.7h-0.7zM1326.3 64.0h0.7v0.7h-0.7zM1348.3 61.2h0.7v0.7h-0.7zM1244.5 57.9h0.7v0.7h-0.7zM1314.7 57.9h0.7v0.7h-0.7zM1321.7 67.4h0.7v0.7h-0.7zM1315.1 70.6h0.7v0.7h-0.7zM1243.5 61.8h0.7v0.7h-0.7zM1331.6 65.8h0.7v0.7h-0.7zM1409.7 64.4h0.7v0.7h-0.7zM1390.3 67.8h0.7v0.7h-0.7zM1400.7 67.1h0.7v0.7h-0.7zM1236.7 69.4h0.7v0.7h-0.7zM1336.0 65.3h0.7v0.7h-0.7zM1445.0 65.1h0.7v0.7h-0.7zM1337.0 69.4h0.7v0.7h-0.7zM1299.6 63.4h0.7v0.7h-0.7zM1385.3 61.2h0.7v0.7h-0.7zM1326.3 62.5h0.7v0.7h-0.7zM1337.1 69.1h0.7v0.7h-0.7zM1315.7 59.6h0.7v0.7h-0.7zM1313.4 65.2h0.7v0.7h-0.7zM1226.9 70.1h0.7v0.7h-0.7zM1340.1 68.9h0.7v0.7h-0.7zM1255.9 63.1h0.7v0.7h-0.7zM1207.7 57.7h0.7v0.7h-0.7zM1329.0 70.1h0.7v0.7h-0.7zM1339.2 71.2h0.7v0.7h-0.7zM1334.0 66.7h0.7v0.7h-0.7zM1318.9 65.4h0.7v0.7h-0.7zM1345.9 66.6h0.7v0.7h-0.7zM1229.7 62.3h0.7v0.7h-0.7zM1326.5 65.2h0.7v0.7h-0.7zM1445.4 63.9h0.7v0.7h-0.7zM1360.7 71.1h0.7v0.7h-0.7zM1325.2 68.6h0.7v0.7h-0.7zM1317.7 70.9h0.7v0.7h-0.7zM1332.8 58.6h0.7v0.7h-0.7z" fill="#3c3c80" fill-opacity="0.25"/>
<path d="M1377.1 68.7h0.6v0.6h-0.6zM1426.5 63.0h0.6v0.6h-0.6zM1316.8 64.3h0.6v0.6h-0.6zM1251.9 59.6h0.6v0.6h-0.6zM1355.4 62.1h0.6v0.6h-0.6zM1363.7 57.6h0.6v0.6h-0.6zM1337.2 61.4h0.6v0.6h-0.6zM1206.0 61.4h0.6v0.6h-0.6zM1351.2 66.6h0.6v0.6h-0.6zM1323.9 64.9h0.6v0.6h-0.6zM1330.3 64.6h0.6v0.6h-0.6zM1348.3 62.9h0.6v0.6h-0.6zM1313.6 67.9h0.6v0.6h-0.6zM1312.6 59.4h0.6v0.6h-0.6zM1410.3 65.8h0.6v0.6h-0.6zM1220.5 57.2h0.6v0.6h-0.6zM1285.5 67.2h0.6v0.6h-0.6zM1313.9 60.8h0.6v0.6h-0.6zM1343.4 65.3h0.6v0.6h-0.6zM1322.1 62.5h0.6v0.6h-0.6zM1342.7 65.3h0.6v0.6h-0.6zM1314.6 65.9h0.6v0.6h-0.6zM1312.0 70.3h0.6v0.6h-0.6zM1283.5 69.9h0.6v0.6h-0.6zM1280.7 65.6h0.6v0.6h-0.6zM1328.6 70.6h0.6v0.6h-0.6zM1320.0 67.3h0.6v0.6h-0.6zM1317.4 69.5h0.6v0.6h-0.6zM1402.7 60.5h0.6v0.6h-0.6zM1318.9 59.7h0.6v0.6h-0.6zM1277.5 65.0h0.6v0.6h-0.6zM1325.4 62.5h0.6v0.6h-0.6zM1312.2 58.8h0.6v0.6h-0.6zM1292.6 60.5h0.6v0.6h-0.6zM1316.7 60.4h0.6v0.6h-0.6zM1331.1 61.9h0.6v0.6h-0.6zM1333.1 58.3h0.6v0.6h-0.6zM1339.7 58.8h0.6v0.6h-0.6zM1413.6 68.5h0.6v0.6h-0.6zM1318.7 67.3h0.6v0.6h-0.6zM1346.5 60.0h0.6v0.6h-0.6zM1330.9 60.3h0.6v0.6h-0.6zM1237.7 67.1h0.6v0.6h-0.6zM1343.2 65.4h0.6v0.6h-0.6zM1315.7 65.7h0.6v0.6h-0.6zM1341.7 58.8h0.6v0.6h-0.6zM1340.3 60.9h0.6v0.6h-0.6zM1301.0 66.4h0.6v0.6h-0.6zM1282.5 62.6h0.6v0.6h-0.6zM1314.0 69.2h0.6v0.6h-0.6zM1331.0 58.6h0.6v0.6h-0.6zM1295.2 64.2h0.6v0.6h-0.6zM1312.2 61.5h0.6v0.6h-0.6zM1313.1 67.2h0.6v0.6h-0.6zM1320.4 70.0h0.6v0.6h-0.6zM1425.2 69.3h0.6v0.6h-0.6zM1316.5 57.4h0.6v0.6h-0.6zM1370.5 62.0h0.6v0.6h-0.6zM1330.8 67.0h0.6v0.6h-0.6zM1340.3 62.0h0.6v0.6h-0.6zM1250.3 58.6h0.6v0.6h-0.6zM1388.1 67.2h0.6v0.6h-0.6zM1311.9 59.3h0.6v0.6h-0.6zM1317.2 62.4h0.6v0.6h-0.6zM1317.5 66.1h0.6v0.6h-0.6zM1339.9 65.2h0.6v0.6h-0.6zM1268.5 63.2h0.6v0.6h-0.6zM1292.1 57.0h0.6v0.6h-0.6zM1398.7 61.1h0.6v0.6h-0.6zM1340.7 65.7h0.6v0.6h-0.6zM1315.6 58.6h0.6v0.6h-0.6zM1257.4 70.1h0.6v0.6h-0.6zM1226.5 66.9h0.6v0.6h-0.6zM1335.1 68.9h0.6v0.6h-0.6zM1312.5 70.5h0.6v0.6h-0.6zM1437.0 66.9h0.6v0.6h-0.6zM1412.0 66.0h0.6v0.6h-0.6zM1218.5 67.0h0.6v0.6h-0.6zM1332.7 70.3h0.6v0.6h-0.6zM1335.8 57.6h0.6v0.6h-0.6zM1405.9 60.7h0.6v0.6h-0.6zM1446.8 66.1h0.6v0.6h-0.6zM1267.3 57.8h0.6v0.6h-0.6zM1320.7 59.9h0.6v0.6h-0.6zM1313.2 67.1h0.6v0.6h-0.6zM1264.3 60.5h0.6v0.6h-0.6zM1316.0 70.4h0.6v0.6h-0.6zM1317.1 69.7h0.6v0.6h-0.6zM1326.6 61.8h0.6v0.6h-0.6zM1341.7 67.9h0.6v0.6h-0.6zM1331.2 65.6h0.6v0.6h-0.6zM1396.1 68.9h0.6v0.6h-0.6zM1316.8 62.2h0.6v0.6h-0.6zM1312.1 61.0h0.6v0.6h-0.6zM1332.9 63.4h0.6v0.6h-0.6zM1317.9 63.7h0.6v0.6h-0.6zM1313.9 58.0h0.6v0.6h-0.6zM1348.5 67.7h0.6v0.6h-0.6zM1333.6 71.0h0.6v0.6h-0.6zM1232.1 64.0h0.6v0.6h-0.6zM1252.3 64.8h0.6v0.6h-0.6zM1344.3 66.2h0.6v0.6h-0.6zM1438.3 66.3h0.6v0.6h-0.6zM1315.7 59.0h0.6v0.6h-0.6zM1336.5 69.0h0.6v0.6h-0.6zM1314.2 66.1h0.6v0.6h-0.6zM1436.1 59.4h0.6v0.6h-0.6zM1412.1 67.6h0.6v0.6h-0.6zM1314.2 68.8h0.6v0.6h-0.6zM1319.3 64.9h0.6v0.6h-0.6zM1339.5 60.4h0.6v0.6h-0.6zM1326.7 66.0h0.6v0.6h-0.6zM1381.0 69.9h0.6v0.6h-0.6zM1328.3 64.1h0.6v0.6h-0.6zM1317.1 65.3h0.6v0.6h-0.6zM1332.2 59.3h0.6v0.6h-0.6zM1446.9 58.3h0.6v0.6h-0.6zM1321.7 59.7h0.6v0.6h-0.6zM1205.7 69.0h0.6v0.6h-0.6zM1401.3 63.1h0.6v0.6h-0.6zM1331.0 64.4h0.6v0.6h-0.6zM1289.5 63.3h0.6v0.6h-0.6zM1411.0 69.9h0.6v0.6h-0.6zM1317.0 63.3h0.6v0.6h-0.6zM1291.8 59.8h0.6v0.6h-0.6zM1317.8 63.6h0.6v0.6h-0.6zM1431.6 69.4h0.6v0.6h-0.6zM1444.9 65.9h0.6v0.6h-0.6zM1220.0 66.7h0.6v0.6h-0.6zM1279.1 65.2h0.6v0.6h-0.6zM1324.9 66.3h0.6v0.6h-0.6zM1318.4 69.7h0.6v0.6h-0.6zM1314.3 66.7h0.6v0.6h-0.6zM1226.3 66.4h0.6v0.6h-0.6zM1327.3 63.0h0.6v0.6h-0.6zM1345.9 62.7h0.6v0.6h-0.6zM1314.1 69.7h0.6v0.6h-0.6zM1233.0 69.3h0.6v0.6h-0.6zM1312.6 64.6h0.6v0.6h-0.6zM1323.6 64.9h0.6v0.6h-0.6zM1327.0 58.6h0.6v0.6h-0.6zM1351.8 58.1h0.6v0.6h-0.6zM1312.3 63.3h0.6v0.6h-0.6zM1342.3 67.2h0.6v0.6h-0.6zM1233.6 71.2h0.6v0.6h-0.6zM1230.5 68.9h0.6v0.6h-0.6zM1313.9 70.7h0.6v0.6h-0.6zM1398.3 59.0h0.6v0.6h-0.6zM1219.4 60.4h0.6v0.6h-0.6zM1311.7 65.5h0.6v0.6h-0.6z" fill="#3c3c80" fill-opacity="0.5"/>
<path d="M1317.1 67.1h0.6v0.6h-0.6zM1426.6 65.9h0.6v0.6h-0.6zM1345.4 70.1h0.6v0.6h-0.6zM1246.9 67.7h0.6v0.6h-0.6zM1335.9 66.7h0.6v0.6h-0.6zM1235.6 62.3h0.6v0.6h-0.6zM1441.4 67.3h0.6v0.6h-0.6zM1328.3 58.4h0.6v0.6h-0.6zM1405.3 58.6h0.6v0.6h-0.6zM1373.4 60.6h0.6v0.6h-0.6zM1322.0 69.0h0.6v0.6h-0.6zM1233.3 57.3h0.6v0.6h-0.6zM1337.8 59.6h0.6v0.6h-0.6zM1277.3 66.8h0.6v0.6h-0.6zM1313.4 69.5h0.6v0.6h-0.6zM1377.0 68.6h0.6v0.6h-0.6zM1208.4 61.9h0.6v0.6h-0.6zM1324.1 69.5h0.6v0.6h-0.6zM1213.8 59.6h0.6v0.6h-0.6zM1374.5 62.6h0.6v0.6h-0.6zM1244.5 69.1h0.6v0.6h-0.6zM1341.7 65.7h0.6v0.6h-0.6zM1318.0 60.1h0.6v0.6h-0.6zM1352.0 57.6h0.6v0.6h-0.6zM1319.0 63.7h0.6v0.6h-0.6zM1301.7 62.1h0.6v0.6h-0.6zM1327.3 61.8h0.6v0.6h-0.6zM1322.4 71.1h0.6v0.6h-0.6zM1313.4 66.6h0.6v0.6h-0.6zM1316.4 64.2h0.6v0.6h-0.6zM1326.8 64.6h0.6v0.6h-0.6zM1452.5 57.5h0.6v0.6h-0.6zM1397.3 69.5h0.6v0.6h-0.6zM1362.9 66.1h0.6v0.6h-0.6zM1316.6 68.4h0.6v0.6h-0.6zM1439.1 66.7h0.6v0.6h-0.6zM1335.9 67.6h0.6v0.6h-0.6zM1363.4 62.0h0.6v0.6h-0.6zM1306.2 57.9h0.6v0.6h-0.6zM1317.8 71.1h0.6v0.6h-0.6zM1296.6 60.5h0.6v0.6h-0.6zM1318.6 58.9h0.6v0.6h-0.6zM1341.6 63.5h0.6v0.6h-0.6zM1346.8 61.3h0.6v0.6h-0.6zM1312.2 61.3h0.6v0.6h-0.6zM1334.1 64.9h0.6v0.6h-0.6zM1289.9 70.2h0.6v0.6h-0.6zM1225.0 59.6h0.6v0.6h-0.6zM1451.3 62.1h0.6v0.6h-0.6zM1311.8 69.4h0.6v0.6h-0.6z" fill="#3c3c80" fill-opacity="0.85"/>
<rect x="1205.00" y="56.20" width="250.00" height="0.80" fill="#a9a9ad"/>
<rect x="1204.70" y="56.20" width="0.60" height="15.70" fill="#b9b9c6"/>
<text x="993.62" y="43.60" font-family='"Liberation Sans", sans-serif' font-weight="bold" font-size="24.00" textLength="155.65" lengthAdjust="spacingAndGlyphs" fill="#000">forward strand</text>
<text x="1246.77" y="43.20" font-family='"Liberation Sans", sans-serif' font-weight="bold" font-size="24.00" textLength="149.25" lengthAdjust="spacingAndGlyphs" fill="#000">reverse strand</text>
<text x="1187.34" y="97.60" font-family='"Liberation Sans", sans-serif' font-weight="normal" font-size="22.20" textLength="45.29" lengthAdjust="spacingAndGlyphs" fill="#000" stroke="#000" stroke-width="0.9" stroke-linejoin="round">-500</text>
<text x="1328.95" y="97.60" font-family='"Liberation Sans", sans-serif' font-weight="normal" font-size="22.20" textLength="12.80" lengthAdjust="spacingAndGlyphs" fill="#000" stroke="#000" stroke-width="0.9" stroke-linejoin="round">0</text>
<text x="1443.35" y="97.60" font-family='"Liberation Sans", sans-serif' font-weight="normal" font-size="22.20" textLength="37.69" lengthAdjust="spacingAndGlyphs" fill="#000" stroke="#000" stroke-width="0.9" stroke-linejoin="round">500</text>
<text x="-0.94" y="0" font-family='"Liberation Sans", sans-serif' font-weight="bold" font-size="23.20" textLength="13.21" lengthAdjust="spacingAndGlyphs" transform="translate(949.30,55.30) rotate(-90)">0</text>
<text x="-0.77" y="0" font-family='"Liberation Sans", sans-serif' font-weight="bold" font-size="23.20" textLength="36.89" lengthAdjust="spacingAndGlyphs" transform="translate(949.30,116.00) rotate(-90)">254</text>
<rect x="1490.40" y="64.30" width="253.40" height="3.10" fill="#000"/>
<rect x="1785.70" y="64.30" width="402.70" height="3.10" fill="#000"/>
<rect x="2208.80" y="64.30" width="280.20" height="3.10" fill="#000"/>
<text x="1581.27" y="55.00" font-family='"Liberation Sans", sans-serif' font-weight="bold" font-size="28.30" textLength="74.41" lengthAdjust="spacingAndGlyphs" fill="#000">peaks</text>
<text x="1949.76" y="55.00" font-family='"Liberation Sans", sans-serif' font-weight="bold" font-size="28.30" textLength="74.82" lengthAdjust="spacingAndGlyphs" fill="#000">peaks</text>
<text x="2311.56" y="55.00" font-family='"Liberation Sans", sans-serif' font-weight="bold" font-size="28.30" textLength="75.03" lengthAdjust="spacingAndGlyphs" fill="#000">peaks</text>
<text x="1524.92" y="97.80" font-family='"Liberation Sans", sans-serif' font-weight="bold" font-size="28.30" textLength="64.83" lengthAdjust="spacingAndGlyphs" fill="#000">state</text>
<text x="1635.84" y="97.80" font-family='"Liberation Sans", sans-serif' font-weight="bold" font-size="28.30" textLength="97.71" lengthAdjust="spacingAndGlyphs" fill="#000">fraction</text>
<text x="1883.69" y="97.80" font-family='"Liberation Sans", sans-serif' font-weight="bold" font-size="28.30" textLength="86.86" lengthAdjust="spacingAndGlyphs" fill="#000">repeat</text>
<text x="2078.05" y="97.80" font-family='"Liberation Sans", sans-serif' font-weight="bold" font-size="28.30" textLength="97.50" lengthAdjust="spacingAndGlyphs" fill="#000">fraction</text>
<text x="2245.80" y="97.80" font-family='"Liberation Sans", sans-serif' font-weight="bold" font-size="28.30" textLength="86.45" lengthAdjust="spacingAndGlyphs" fill="#000">repeat</text>
<text x="2379.05" y="97.80" font-family='"Liberation Sans", sans-serif' font-weight="bold" font-size="28.30" textLength="97.50" lengthAdjust="spacingAndGlyphs" fill="#000">fraction</text>
<text x="1522.51" y="140.00" font-family='"Liberation Sans", sans-serif' font-weight="bold" font-size="29.00" textLength="74.09" lengthAdjust="spacingAndGlyphs" fill="#000">Quies</text>
<text x="1530.04" y="182.29" font-family='"Liberation Sans", sans-serif' font-weight="bold" font-size="29.00" textLength="56.67" lengthAdjust="spacingAndGlyphs" fill="#000">TssA</text>
<text x="1513.23" y="224.58" font-family='"Liberation Sans", sans-serif' font-weight="bold" font-size="29.00" textLength="89.94" lengthAdjust="spacingAndGlyphs" fill="#000">TssFlnk</text>
<text x="1523.10" y="266.87" font-family='"Liberation Sans", sans-serif' font-weight="bold" font-size="29.00" textLength="70.47" lengthAdjust="spacingAndGlyphs" fill="#000">TxWk</text>
<text x="1489.24" y="309.16" font-family='"Liberation Sans", sans-serif' font-weight="bold" font-size="29.00" textLength="136.14" lengthAdjust="spacingAndGlyphs" fill="#000">ReprPCWk</text>
<text x="1533.85" y="351.45" font-family='"Liberation Sans", sans-serif' font-weight="bold" font-size="29.00" textLength="46.90" lengthAdjust="spacingAndGlyphs" fill="#000">Het</text>
<text x="1512.41" y="393.74" font-family='"Liberation Sans", sans-serif' font-weight="bold" font-size="29.00" textLength="90.87" lengthAdjust="spacingAndGlyphs" fill="#000">EnhWk</text>
<text x="1498.49" y="436.03" font-family='"Liberation Sans", sans-serif' font-weight="bold" font-size="29.00" textLength="121.54" lengthAdjust="spacingAndGlyphs" fill="#000">ZNF/Rpts</text>
<text x="1544.03" y="478.32" font-family='"Liberation Sans", sans-serif' font-weight="bold" font-size="29.00" textLength="28.05" lengthAdjust="spacingAndGlyphs" fill="#000">Tx</text>
<text x="1521.34" y="520.61" font-family='"Liberation Sans", sans-serif' font-weight="bold" font-size="29.00" textLength="74.86" lengthAdjust="spacingAndGlyphs" fill="#000">TssBiv</text>
<text x="1504.53" y="562.90" font-family='"Liberation Sans", sans-serif' font-weight="bold" font-size="29.00" textLength="108.95" lengthAdjust="spacingAndGlyphs" fill="#000">TssFlnkU</text>
<text x="1517.87" y="605.19" font-family='"Liberation Sans", sans-serif' font-weight="bold" font-size="29.00" textLength="81.86" lengthAdjust="spacingAndGlyphs" fill="#000">EnhA2</text>
<text x="1510.66" y="647.48" font-family='"Liberation Sans", sans-serif' font-weight="bold" font-size="29.00" textLength="95.66" lengthAdjust="spacingAndGlyphs" fill="#000">ReprPC</text>
<text x="1517.89" y="689.77" font-family='"Liberation Sans", sans-serif' font-weight="bold" font-size="29.00" textLength="81.02" lengthAdjust="spacingAndGlyphs" fill="#000">EnhA1</text>
<text x="1517.92" y="732.06" font-family='"Liberation Sans", sans-serif' font-weight="bold" font-size="29.00" textLength="80.98" lengthAdjust="spacingAndGlyphs" fill="#000">EnhG1</text>
<text x="1515.86" y="774.35" font-family='"Liberation Sans", sans-serif' font-weight="bold" font-size="29.00" textLength="84.24" lengthAdjust="spacingAndGlyphs" fill="#000">EnhBiv</text>
<rect x="1624.10" y="107.10" width="117.40" height="42.59" fill="#f3d1bc"/>
<rect x="1624.10" y="149.39" width="117.40" height="42.59" fill="#fcf1ea"/>
<rect x="1624.10" y="191.68" width="117.40" height="42.59" fill="#fef9f6"/>
<rect x="1624.10" y="233.97" width="117.40" height="42.59" fill="#fefaf8"/>
<rect x="1624.10" y="276.26" width="117.40" height="42.59" fill="#fefaf8"/>
<rect x="1624.10" y="318.55" width="117.40" height="42.59" fill="#fefaf8"/>
<rect x="1624.10" y="360.84" width="117.40" height="42.59" fill="#fffcfa"/>
<rect x="1624.10" y="403.13" width="117.40" height="42.59" fill="#fffdfc"/>
<rect x="1624.10" y="445.42" width="117.40" height="42.59" fill="#fffdfc"/>
<rect x="1624.10" y="487.71" width="117.40" height="42.59" fill="#fffdfc"/>
<rect x="1624.10" y="530.00" width="117.40" height="42.59" fill="#fffefd"/>
<rect x="1624.10" y="572.29" width="117.40" height="42.59" fill="#fffefd"/>
<rect x="1624.10" y="614.58" width="117.40" height="42.59" fill="#fffefd"/>
<rect x="1624.10" y="656.87" width="117.40" height="42.59" fill="#fffefd"/>
<text x="1656.92" y="140.00" font-family='"Liberation Sans", sans-serif' font-weight="normal" font-size="29.00" textLength="55.60" lengthAdjust="spacingAndGlyphs" fill="#000" stroke="#000" stroke-width="0.35" stroke-linejoin="round">0.29</text>
<text x="1656.80" y="182.29" font-family='"Liberation Sans", sans-serif' font-weight="normal" font-size="29.00" textLength="55.60" lengthAdjust="spacingAndGlyphs" fill="#000" stroke="#000" stroke-width="0.35" stroke-linejoin="round">0.10</text>
<text x="1656.84" y="224.58" font-family='"Liberation Sans", sans-serif' font-weight="normal" font-size="29.00" textLength="55.60" lengthAdjust="spacingAndGlyphs" fill="#000" stroke="#000" stroke-width="0.35" stroke-linejoin="round">0.05</text>
<text x="1656.66" y="266.87" font-family='"Liberation Sans", sans-serif' font-weight="normal" font-size="29.00" textLength="55.60" lengthAdjust="spacingAndGlyphs" fill="#000" stroke="#000" stroke-width="0.35" stroke-linejoin="round">0.04</text>
<text x="1656.66" y="309.16" font-family='"Liberation Sans", sans-serif' font-weight="normal" font-size="29.00" textLength="55.60" lengthAdjust="spacingAndGlyphs" fill="#000" stroke="#000" stroke-width="0.35" stroke-linejoin="round">0.04</text>
<text x="1656.66" y="351.45" font-family='"Liberation Sans", sans-serif' font-weight="normal" font-size="29.00" textLength="55.60" lengthAdjust="spacingAndGlyphs" fill="#000" stroke="#000" stroke-width="0.35" stroke-linejoin="round">0.04</text>
<text x="1656.87" y="393.74" font-family='"Liberation Sans", sans-serif' font-weight="normal" font-size="29.00" textLength="55.60" lengthAdjust="spacingAndGlyphs" fill="#000" stroke="#000" stroke-width="0.35" stroke-linejoin="round">0.03</text>
<text x="1656.96" y="436.03" font-family='"Liberation Sans", sans-serif' font-weight="normal" font-size="29.00" textLength="55.60" lengthAdjust="spacingAndGlyphs" fill="#000" stroke="#000" stroke-width="0.35" stroke-linejoin="round">0.02</text>
<text x="1656.96" y="478.32" font-family='"Liberation Sans", sans-serif' font-weight="normal" font-size="29.00" textLength="55.60" lengthAdjust="spacingAndGlyphs" fill="#000" stroke="#000" stroke-width="0.35" stroke-linejoin="round">0.02</text>
<text x="1656.96" y="520.61" font-family='"Liberation Sans", sans-serif' font-weight="normal" font-size="29.00" textLength="55.60" lengthAdjust="spacingAndGlyphs" fill="#000" stroke="#000" stroke-width="0.35" stroke-linejoin="round">0.02</text>
<text x="1656.94" y="562.90" font-family='"Liberation Sans", sans-serif' font-weight="normal" font-size="29.00" textLength="55.60" lengthAdjust="spacingAndGlyphs" fill="#000" stroke="#000" stroke-width="0.35" stroke-linejoin="round">0.01</text>
<text x="1656.94" y="605.19" font-family='"Liberation Sans", sans-serif' font-weight="normal" font-size="29.00" textLength="55.60" lengthAdjust="spacingAndGlyphs" fill="#000" stroke="#000" stroke-width="0.35" stroke-linejoin="round">0.01</text>
<text x="1656.94" y="647.48" font-family='"Liberation Sans", sans-serif' font-weight="normal" font-size="29.00" textLength="55.60" lengthAdjust="spacingAndGlyphs" fill="#000" stroke="#000" stroke-width="0.35" stroke-linejoin="round">0.01</text>
<text x="1656.94" y="689.77" font-family='"Liberation Sans", sans-serif' font-weight="normal" font-size="29.00" textLength="55.60" lengthAdjust="spacingAndGlyphs" fill="#000" stroke="#000" stroke-width="0.35" stroke-linejoin="round">0.01</text>
<text x="1656.80" y="732.06" font-family='"Liberation Sans", sans-serif' font-weight="normal" font-size="29.00" textLength="55.60" lengthAdjust="spacingAndGlyphs" fill="#000" stroke="#000" stroke-width="0.35" stroke-linejoin="round">0.00</text>
<text x="1656.80" y="774.35" font-family='"Liberation Sans", sans-serif' font-weight="normal" font-size="29.00" textLength="55.60" lengthAdjust="spacingAndGlyphs" fill="#000" stroke="#000" stroke-width="0.35" stroke-linejoin="round">0.00</text>
<rect x="2065.90" y="107.10" width="119.80" height="42.59" fill="#f5d6c6"/>
<rect x="2065.90" y="149.39" width="119.80" height="42.59" fill="#fae9e0"/>
<rect x="2065.90" y="191.68" width="119.80" height="42.59" fill="#fef7f4"/>
<rect x="2065.90" y="233.97" width="119.80" height="42.59" fill="#fef7f4"/>
<rect x="2065.90" y="276.26" width="119.80" height="42.59" fill="#fef9f6"/>
<rect x="2065.90" y="318.55" width="119.80" height="42.59" fill="#fefaf8"/>
<rect x="2065.90" y="360.84" width="119.80" height="42.59" fill="#fefaf8"/>
<rect x="2065.90" y="403.13" width="119.80" height="42.59" fill="#fffcfa"/>
<rect x="2065.90" y="445.42" width="119.80" height="42.59" fill="#fffcfa"/>
<rect x="2065.90" y="487.71" width="119.80" height="42.59" fill="#fffcfa"/>
<rect x="2065.90" y="530.00" width="119.80" height="42.59" fill="#fffcfa"/>
<rect x="2065.90" y="572.29" width="119.80" height="42.59" fill="#fffcfa"/>
<rect x="2065.90" y="614.58" width="119.80" height="42.59" fill="#fffcfa"/>
<rect x="2065.90" y="656.87" width="119.80" height="42.59" fill="#fffdfc"/>
<rect x="2065.90" y="699.16" width="119.80" height="42.59" fill="#fffefd"/>
<rect x="2065.90" y="741.45" width="119.80" height="42.59" fill="#fffefd"/>
<text x="2098.64" y="140.00" font-family='"Liberation Sans", sans-serif' font-weight="normal" font-size="29.00" textLength="55.60" lengthAdjust="spacingAndGlyphs" fill="#000" stroke="#000" stroke-width="0.35" stroke-linejoin="round">0.25</text>
<text x="2098.46" y="182.29" font-family='"Liberation Sans", sans-serif' font-weight="normal" font-size="29.00" textLength="55.60" lengthAdjust="spacingAndGlyphs" fill="#000" stroke="#000" stroke-width="0.35" stroke-linejoin="round">0.14</text>
<text x="2098.67" y="224.58" font-family='"Liberation Sans", sans-serif' font-weight="normal" font-size="29.00" textLength="55.60" lengthAdjust="spacingAndGlyphs" fill="#000" stroke="#000" stroke-width="0.35" stroke-linejoin="round">0.06</text>
<text x="2098.67" y="266.87" font-family='"Liberation Sans", sans-serif' font-weight="normal" font-size="29.00" textLength="55.60" lengthAdjust="spacingAndGlyphs" fill="#000" stroke="#000" stroke-width="0.35" stroke-linejoin="round">0.06</text>
<text x="2098.64" y="309.16" font-family='"Liberation Sans", sans-serif' font-weight="normal" font-size="29.00" textLength="55.60" lengthAdjust="spacingAndGlyphs" fill="#000" stroke="#000" stroke-width="0.35" stroke-linejoin="round">0.05</text>
<text x="2098.46" y="351.45" font-family='"Liberation Sans", sans-serif' font-weight="normal" font-size="29.00" textLength="55.60" lengthAdjust="spacingAndGlyphs" fill="#000" stroke="#000" stroke-width="0.35" stroke-linejoin="round">0.04</text>
<text x="2098.46" y="393.74" font-family='"Liberation Sans", sans-serif' font-weight="normal" font-size="29.00" textLength="55.60" lengthAdjust="spacingAndGlyphs" fill="#000" stroke="#000" stroke-width="0.35" stroke-linejoin="round">0.04</text>
<text x="2098.67" y="436.03" font-family='"Liberation Sans", sans-serif' font-weight="normal" font-size="29.00" textLength="55.60" lengthAdjust="spacingAndGlyphs" fill="#000" stroke="#000" stroke-width="0.35" stroke-linejoin="round">0.03</text>
<text x="2098.67" y="478.32" font-family='"Liberation Sans", sans-serif' font-weight="normal" font-size="29.00" textLength="55.60" lengthAdjust="spacingAndGlyphs" fill="#000" stroke="#000" stroke-width="0.35" stroke-linejoin="round">0.03</text>
<text x="2098.67" y="520.61" font-family='"Liberation Sans", sans-serif' font-weight="normal" font-size="29.00" textLength="55.60" lengthAdjust="spacingAndGlyphs" fill="#000" stroke="#000" stroke-width="0.35" stroke-linejoin="round">0.03</text>
<text x="2098.67" y="562.90" font-family='"Liberation Sans", sans-serif' font-weight="normal" font-size="29.00" textLength="55.60" lengthAdjust="spacingAndGlyphs" fill="#000" stroke="#000" stroke-width="0.35" stroke-linejoin="round">0.03</text>
<text x="2098.67" y="605.19" font-family='"Liberation Sans", sans-serif' font-weight="normal" font-size="29.00" textLength="55.60" lengthAdjust="spacingAndGlyphs" fill="#000" stroke="#000" stroke-width="0.35" stroke-linejoin="round">0.03</text>
<text x="2098.67" y="647.48" font-family='"Liberation Sans", sans-serif' font-weight="normal" font-size="29.00" textLength="55.60" lengthAdjust="spacingAndGlyphs" fill="#000" stroke="#000" stroke-width="0.35" stroke-linejoin="round">0.03</text>
<text x="2098.76" y="689.77" font-family='"Liberation Sans", sans-serif' font-weight="normal" font-size="29.00" textLength="55.60" lengthAdjust="spacingAndGlyphs" fill="#000" stroke="#000" stroke-width="0.35" stroke-linejoin="round">0.02</text>
<text x="2098.74" y="732.06" font-family='"Liberation Sans", sans-serif' font-weight="normal" font-size="29.00" textLength="55.60" lengthAdjust="spacingAndGlyphs" fill="#000" stroke="#000" stroke-width="0.35" stroke-linejoin="round">0.01</text>
<text x="2098.74" y="774.35" font-family='"Liberation Sans", sans-serif' font-weight="normal" font-size="29.00" textLength="55.60" lengthAdjust="spacingAndGlyphs" fill="#000" stroke="#000" stroke-width="0.35" stroke-linejoin="round">0.01</text>
<text x="2098.60" y="816.64" font-family='"Liberation Sans", sans-serif' font-weight="normal" font-size="29.00" textLength="55.60" lengthAdjust="spacingAndGlyphs" fill="#000" stroke="#000" stroke-width="0.35" stroke-linejoin="round">0.00</text>
<rect x="2366.80" y="107.10" width="122.20" height="42.59" fill="#fefaf8"/>
<rect x="2366.80" y="149.39" width="122.20" height="42.59" fill="#fffcfa"/>
<rect x="2366.80" y="191.68" width="122.20" height="42.59" fill="#fffdfc"/>
<rect x="2366.80" y="233.97" width="122.20" height="42.59" fill="#fffdfc"/>
<rect x="2366.80" y="276.26" width="122.20" height="42.59" fill="#fffdfc"/>
<rect x="2366.80" y="318.55" width="122.20" height="42.59" fill="#fffdfc"/>
<rect x="2366.80" y="360.84" width="122.20" height="42.59" fill="#fffdfc"/>
<rect x="2366.80" y="403.13" width="122.20" height="42.59" fill="#fffdfc"/>
<rect x="2366.80" y="445.42" width="122.20" height="42.59" fill="#fffdfc"/>
<rect x="2366.80" y="487.71" width="122.20" height="42.59" fill="#fffdfc"/>
<rect x="2366.80" y="530.00" width="122.20" height="42.59" fill="#fffefd"/>
<rect x="2366.80" y="572.29" width="122.20" height="42.59" fill="#fffefd"/>
<rect x="2366.80" y="614.58" width="122.20" height="42.59" fill="#fffefd"/>
<rect x="2366.80" y="656.87" width="122.20" height="42.59" fill="#fffefd"/>
<rect x="2366.80" y="699.16" width="122.20" height="42.59" fill="#fffefd"/>
<rect x="2366.80" y="741.45" width="122.20" height="42.59" fill="#fffefd"/>
<rect x="2366.80" y="783.74" width="122.20" height="42.59" fill="#fffefd"/>
<rect x="2366.80" y="826.03" width="122.20" height="42.59" fill="#fffefd"/>
<text x="2398.96" y="140.00" font-family='"Liberation Sans", sans-serif' font-weight="normal" font-size="29.00" textLength="55.60" lengthAdjust="spacingAndGlyphs" fill="#000" stroke="#000" stroke-width="0.35" stroke-linejoin="round">0.04</text>
<text x="2399.17" y="182.29" font-family='"Liberation Sans", sans-serif' font-weight="normal" font-size="29.00" textLength="55.60" lengthAdjust="spacingAndGlyphs" fill="#000" stroke="#000" stroke-width="0.35" stroke-linejoin="round">0.03</text>
<text x="2399.26" y="224.58" font-family='"Liberation Sans", sans-serif' font-weight="normal" font-size="29.00" textLength="55.60" lengthAdjust="spacingAndGlyphs" fill="#000" stroke="#000" stroke-width="0.35" stroke-linejoin="round">0.02</text>
<text x="2399.26" y="266.87" font-family='"Liberation Sans", sans-serif' font-weight="normal" font-size="29.00" textLength="55.60" lengthAdjust="spacingAndGlyphs" fill="#000" stroke="#000" stroke-width="0.35" stroke-linejoin="round">0.02</text>
<text x="2399.26" y="309.16" font-family='"Liberation Sans", sans-serif' font-weight="normal" font-size="29.00" textLength="55.60" lengthAdjust="spacingAndGlyphs" fill="#000" stroke="#000" stroke-width="0.35" stroke-linejoin="round">0.02</text>
<text x="2399.26" y="351.45" font-family='"Liberation Sans", sans-serif' font-weight="normal" font-size="29.00" textLength="55.60" lengthAdjust="spacingAndGlyphs" fill="#000" stroke="#000" stroke-width="0.35" stroke-linejoin="round">0.02</text>
<text x="2399.26" y="393.74" font-family='"Liberation Sans", sans-serif' font-weight="normal" font-size="29.00" textLength="55.60" lengthAdjust="spacingAndGlyphs" fill="#000" stroke="#000" stroke-width="0.35" stroke-linejoin="round">0.02</text>
<text x="2399.26" y="436.03" font-family='"Liberation Sans", sans-serif' font-weight="normal" font-size="29.00" textLength="55.60" lengthAdjust="spacingAndGlyphs" fill="#000" stroke="#000" stroke-width="0.35" stroke-linejoin="round">0.02</text>
<text x="2399.26" y="478.32" font-family='"Liberation Sans", sans-serif' font-weight="normal" font-size="29.00" textLength="55.60" lengthAdjust="spacingAndGlyphs" fill="#000" stroke="#000" stroke-width="0.35" stroke-linejoin="round">0.02</text>
<text x="2399.26" y="520.61" font-family='"Liberation Sans", sans-serif' font-weight="normal" font-size="29.00" textLength="55.60" lengthAdjust="spacingAndGlyphs" fill="#000" stroke="#000" stroke-width="0.35" stroke-linejoin="round">0.02</text>
<text x="2399.24" y="562.90" font-family='"Liberation Sans", sans-serif' font-weight="normal" font-size="29.00" textLength="55.60" lengthAdjust="spacingAndGlyphs" fill="#000" stroke="#000" stroke-width="0.35" stroke-linejoin="round">0.01</text>
<text x="2399.24" y="605.19" font-family='"Liberation Sans", sans-serif' font-weight="normal" font-size="29.00" textLength="55.60" lengthAdjust="spacingAndGlyphs" fill="#000" stroke="#000" stroke-width="0.35" stroke-linejoin="round">0.01</text>
<text x="2399.24" y="647.48" font-family='"Liberation Sans", sans-serif' font-weight="normal" font-size="29.00" textLength="55.60" lengthAdjust="spacingAndGlyphs" fill="#000" stroke="#000" stroke-width="0.35" stroke-linejoin="round">0.01</text>
<text x="2399.24" y="689.77" font-family='"Liberation Sans", sans-serif' font-weight="normal" font-size="29.00" textLength="55.60" lengthAdjust="spacingAndGlyphs" fill="#000" stroke="#000" stroke-width="0.35" stroke-linejoin="round">0.01</text>
<text x="2399.24" y="732.06" font-family='"Liberation Sans", sans-serif' font-weight="normal" font-size="29.00" textLength="55.60" lengthAdjust="spacingAndGlyphs" fill="#000" stroke="#000" stroke-width="0.35" stroke-linejoin="round">0.01</text>
<text x="2399.24" y="774.35" font-family='"Liberation Sans", sans-serif' font-weight="normal" font-size="29.00" textLength="55.60" lengthAdjust="spacingAndGlyphs" fill="#000" stroke="#000" stroke-width="0.35" stroke-linejoin="round">0.01</text>
<text x="2399.24" y="816.64" font-family='"Liberation Sans", sans-serif' font-weight="normal" font-size="29.00" textLength="55.60" lengthAdjust="spacingAndGlyphs" fill="#000" stroke="#000" stroke-width="0.35" stroke-linejoin="round">0.01</text>
<text x="2399.24" y="858.93" font-family='"Liberation Sans", sans-serif' font-weight="normal" font-size="29.00" textLength="55.60" lengthAdjust="spacingAndGlyphs" fill="#000" stroke="#000" stroke-width="0.35" stroke-linejoin="round">0.01</text>
<text x="1833.11" y="140.00" font-family='"Liberation Sans", sans-serif' font-weight="bold" font-size="29.00" textLength="187.12" lengthAdjust="spacingAndGlyphs" fill="#000">Simple_repeat</text>
<text x="1870.43" y="182.29" font-family='"Liberation Sans", sans-serif' font-weight="bold" font-size="29.00" textLength="113.55" lengthAdjust="spacingAndGlyphs" fill="#000">SINE/Alu</text>
<text x="1865.58" y="224.58" font-family='"Liberation Sans", sans-serif' font-weight="bold" font-size="29.00" textLength="124.03" lengthAdjust="spacingAndGlyphs" fill="#000">LTR/ERV1</text>
<text x="1876.48" y="266.87" font-family='"Liberation Sans", sans-serif' font-weight="bold" font-size="29.00" textLength="101.38" lengthAdjust="spacingAndGlyphs" fill="#000">LINE/L1</text>
<text x="1875.21" y="309.16" font-family='"Liberation Sans", sans-serif' font-weight="bold" font-size="29.00" textLength="105.13" lengthAdjust="spacingAndGlyphs" fill="#000">Satellite</text>
<text x="1825.28" y="351.45" font-family='"Liberation Sans", sans-serif' font-weight="bold" font-size="29.00" textLength="203.94" lengthAdjust="spacingAndGlyphs" fill="#000">LTR/ERVL-MaLR</text>
<text x="1832.78" y="393.74" font-family='"Liberation Sans", sans-serif' font-weight="bold" font-size="29.00" textLength="187.76" lengthAdjust="spacingAndGlyphs" fill="#000">Satellite/centr</text>
<text x="1868.11" y="436.03" font-family='"Liberation Sans", sans-serif' font-weight="bold" font-size="29.00" textLength="121.25" lengthAdjust="spacingAndGlyphs" fill="#000">SINE/MIR</text>
<text x="1876.47" y="478.32" font-family='"Liberation Sans", sans-serif' font-weight="bold" font-size="29.00" textLength="101.72" lengthAdjust="spacingAndGlyphs" fill="#000">LINE/L2</text>
<text x="1839.89" y="520.61" font-family='"Liberation Sans", sans-serif' font-weight="bold" font-size="29.00" textLength="175.31" lengthAdjust="spacingAndGlyphs" fill="#000">Satellite/acro</text>
<text x="1823.19" y="562.90" font-family='"Liberation Sans", sans-serif' font-weight="bold" font-size="29.00" textLength="209.95" lengthAdjust="spacingAndGlyphs" fill="#000">Low_complexity</text>
<text x="1865.22" y="605.19" font-family='"Liberation Sans", sans-serif' font-weight="bold" font-size="29.00" textLength="122.96" lengthAdjust="spacingAndGlyphs" fill="#000">LTR/ERVL</text>
<text x="1816.08" y="647.48" font-family='"Liberation Sans", sans-serif' font-weight="bold" font-size="29.00" textLength="220.35" lengthAdjust="spacingAndGlyphs" fill="#000">DNA/hAT-Charlie</text>
<text x="1808.99" y="689.77" font-family='"Liberation Sans", sans-serif' font-weight="bold" font-size="29.00" textLength="237.22" lengthAdjust="spacingAndGlyphs" fill="#000">DNA/TcMar-Tigger</text>
<text x="1865.22" y="732.06" font-family='"Liberation Sans", sans-serif' font-weight="bold" font-size="29.00" textLength="125.82" lengthAdjust="spacingAndGlyphs" fill="#000">LTR/ERVK</text>
<text x="1893.63" y="774.35" font-family='"Liberation Sans", sans-serif' font-weight="bold" font-size="29.00" textLength="68.58" lengthAdjust="spacingAndGlyphs" fill="#000">rRNA</text>
<text x="1860.89" y="816.64" font-family='"Liberation Sans", sans-serif' font-weight="bold" font-size="29.00" textLength="134.85" lengthAdjust="spacingAndGlyphs" fill="#000">LTR/Gypsy</text>
<text x="2260.63" y="140.00" font-family='"Liberation Sans", sans-serif' font-weight="normal" font-size="29.00" textLength="57.52" lengthAdjust="spacingAndGlyphs" fill="#000" stroke="#000" stroke-width="0.35" stroke-linejoin="round">SST1</text>
<text x="2248.13" y="182.29" font-family='"Liberation Sans", sans-serif' font-weight="normal" font-size="29.00" textLength="84.19" lengthAdjust="spacingAndGlyphs" fill="#000" stroke="#000" stroke-width="0.35" stroke-linejoin="round">ACRO1</text>
<text x="2232.18" y="224.58" font-family='"Liberation Sans", sans-serif' font-weight="normal" font-size="29.00" textLength="111.94" lengthAdjust="spacingAndGlyphs" fill="#000" stroke="#000" stroke-width="0.35" stroke-linejoin="round">BSR/Beta</text>
<text x="2249.52" y="266.87" font-family='"Liberation Sans", sans-serif' font-weight="normal" font-size="29.00" textLength="80.92" lengthAdjust="spacingAndGlyphs" fill="#000" stroke="#000" stroke-width="0.35" stroke-linejoin="round">AluYj4</text>
<text x="2256.42" y="309.16" font-family='"Liberation Sans", sans-serif' font-weight="normal" font-size="29.00" textLength="67.74" lengthAdjust="spacingAndGlyphs" fill="#000" stroke="#000" stroke-width="0.35" stroke-linejoin="round">AluJb</text>
<text x="2254.83" y="351.45" font-family='"Liberation Sans", sans-serif' font-weight="normal" font-size="29.00" textLength="69.32" lengthAdjust="spacingAndGlyphs" fill="#000" stroke="#000" stroke-width="0.35" stroke-linejoin="round">(GT)n</text>
<text x="2243.82" y="393.74" font-family='"Liberation Sans", sans-serif' font-weight="normal" font-size="29.00" textLength="92.06" lengthAdjust="spacingAndGlyphs" fill="#000" stroke="#000" stroke-width="0.35" stroke-linejoin="round">LTR10A</text>
<text x="2266.59" y="436.03" font-family='"Liberation Sans", sans-serif' font-weight="normal" font-size="29.00" textLength="42.44" lengthAdjust="spacingAndGlyphs" fill="#000" stroke="#000" stroke-width="0.35" stroke-linejoin="round">L2a</text>
<text x="2256.42" y="478.32" font-family='"Liberation Sans", sans-serif' font-weight="normal" font-size="29.00" textLength="67.74" lengthAdjust="spacingAndGlyphs" fill="#000" stroke="#000" stroke-width="0.35" stroke-linejoin="round">AluJo</text>
<text x="2253.64" y="520.61" font-family='"Liberation Sans", sans-serif' font-weight="normal" font-size="29.00" textLength="70.51" lengthAdjust="spacingAndGlyphs" fill="#000" stroke="#000" stroke-width="0.35" stroke-linejoin="round">(GA)n</text>
<text x="2231.37" y="562.90" font-family='"Liberation Sans", sans-serif' font-weight="normal" font-size="29.00" textLength="116.96" lengthAdjust="spacingAndGlyphs" fill="#000" stroke="#000" stroke-width="0.35" stroke-linejoin="round">MSTA-int</text>
<text x="2254.93" y="605.19" font-family='"Liberation Sans", sans-serif' font-weight="normal" font-size="29.00" textLength="68.25" lengthAdjust="spacingAndGlyphs" fill="#000" stroke="#000" stroke-width="0.35" stroke-linejoin="round">MIR3</text>
<text x="2243.71" y="647.48" font-family='"Liberation Sans", sans-serif' font-weight="normal" font-size="29.00" textLength="90.76" lengthAdjust="spacingAndGlyphs" fill="#000" stroke="#000" stroke-width="0.35" stroke-linejoin="round">MER5A</text>
<text x="2243.67" y="689.77" font-family='"Liberation Sans", sans-serif' font-weight="normal" font-size="29.00" textLength="89.81" lengthAdjust="spacingAndGlyphs" fill="#000" stroke="#000" stroke-width="0.35" stroke-linejoin="round">MER50</text>
<text x="2237.19" y="732.06" font-family='"Liberation Sans", sans-serif' font-weight="normal" font-size="29.00" textLength="106.64" lengthAdjust="spacingAndGlyphs" fill="#000" stroke="#000" stroke-width="0.35" stroke-linejoin="round">MER21B</text>
<text x="2241.65" y="774.35" font-family='"Liberation Sans", sans-serif' font-weight="normal" font-size="29.00" textLength="96.33" lengthAdjust="spacingAndGlyphs" fill="#000" stroke="#000" stroke-width="0.35" stroke-linejoin="round">GA-rich</text>
<text x="2261.52" y="816.64" font-family='"Liberation Sans", sans-serif' font-weight="normal" font-size="29.00" textLength="56.69" lengthAdjust="spacingAndGlyphs" fill="#000" stroke="#000" stroke-width="0.35" stroke-linejoin="round">AluY</text>
<text x="2230.60" y="858.93" font-family='"Liberation Sans", sans-serif' font-weight="normal" font-size="29.00" textLength="119.67" lengthAdjust="spacingAndGlyphs" fill="#000" stroke="#000" stroke-width="0.35" stroke-linejoin="round">(TGGAA)n</text>
<text x="240.04" y="806.40" font-family='"Liberation Sans", sans-serif' font-weight="bold" font-size="28.60" textLength="300.80" lengthAdjust="spacingAndGlyphs" fill="#000">no GREAT enrichment</text>
<text x="6.52" y="978.80" font-family='"Liberation Sans", sans-serif' font-weight="bold" font-size="29.20" textLength="89.18" lengthAdjust="spacingAndGlyphs" fill="#000">CIS-BP</text>
<text x="6.46" y="1018.70" font-family='"Liberation Sans", sans-serif' font-weight="bold" font-size="29.20" textLength="63.29" lengthAdjust="spacingAndGlyphs" fill="#000">ChIP</text>
<text x="2.67" y="1194.80" font-family='"Liberation Sans", sans-serif' font-weight="bold" font-size="30.00" textLength="103.58" lengthAdjust="spacingAndGlyphs" fill="#000">B1H-RC</text>
<text x="2.55" y="1234.50" font-family='"Liberation Sans", sans-serif' font-weight="bold" font-size="28.60" textLength="142.68" lengthAdjust="spacingAndGlyphs" fill="#000">prediction</text>
<text x="231.09" y="1399.90" font-family='"Liberation Sans", sans-serif' font-weight="bold" font-size="28.30" textLength="394.34" lengthAdjust="spacingAndGlyphs" fill="#000">no motif discovered de novo</text>
<text x="0" y="0" font-family='"Liberation Sans", sans-serif' font-weight="bold" font-size="100" fill="#3db54a" transform="translate(249.07,983.30) scale(0.4139,0.3463)">A</text>
<text x="0" y="0" font-family='"Liberation Sans", sans-serif' font-weight="bold" font-size="100" fill="#34429a" transform="translate(248.36,958.51) scale(0.4247,0.9853)">C</text>
<text x="0" y="0" font-family='"Liberation Sans", sans-serif' font-weight="bold" font-size="100" fill="#ffe6a5" transform="translate(248.41,1028.95) scale(0.4115,0.6452)">G</text>
<text x="0" y="0" font-family='"Liberation Sans", sans-serif' font-weight="bold" font-size="100" fill="#cb868a" transform="translate(249.57,1077.74) scale(0.4716,0.6913)">T</text>
<text x="0" y="0" font-family='"Liberation Sans", sans-serif' font-weight="bold" font-size="100" fill="#34429a" transform="translate(276.73,983.14) scale(0.4247,0.1670)">C</text>
<text x="0" y="0" font-family='"Liberation Sans", sans-serif' font-weight="bold" font-size="100" fill="#fbb116" transform="translate(276.78,971.19) scale(0.4115,0.2929)">G</text>
<text x="0" y="0" font-family='"Liberation Sans", sans-serif' font-weight="bold" font-size="100" fill="#3db54a" transform="translate(277.44,950.73) scale(0.4139,0.6228)">A</text>
<text x="0" y="0" font-family='"Liberation Sans", sans-serif' font-weight="bold" font-size="100" fill="#cb868a" transform="translate(277.94,1058.72) scale(0.4716,1.0875)">T</text>
<text x="0" y="0" font-family='"Liberation Sans", sans-serif' font-weight="bold" font-size="100" fill="#ce2027" transform="translate(306.31,983.30) scale(0.4716,0.2641)">T</text>
<text x="0" y="0" font-family='"Liberation Sans", sans-serif' font-weight="bold" font-size="100" fill="#3db54a" transform="translate(305.81,965.13) scale(0.4139,0.2815)">A</text>
<text x="0" y="0" font-family='"Liberation Sans", sans-serif' font-weight="bold" font-size="100" fill="#fbb116" transform="translate(305.15,945.22) scale(0.4115,0.5592)">G</text>
<text x="0" y="0" font-family='"Liberation Sans", sans-serif' font-weight="bold" font-size="100" fill="#8a88c4" transform="translate(305.10,1059.21) scale(0.4247,1.0785)">C</text>
<text x="0" y="0" font-family='"Liberation Sans", sans-serif' font-weight="bold" font-size="100" fill="#ce2027" transform="translate(334.68,983.30) scale(0.4716,0.2790)">T</text>
<text x="0" y="0" font-family='"Liberation Sans", sans-serif' font-weight="bold" font-size="100" fill="#8ccb8e" transform="translate(334.18,990.33) scale(0.4139,0.0934)">A</text>
<text x="0" y="0" font-family='"Liberation Sans", sans-serif' font-weight="bold" font-size="100" fill="#8a88c4" transform="translate(333.47,997.10) scale(0.4247,0.0884)">C</text>
<text x="0" y="0" font-family='"Liberation Sans", sans-serif' font-weight="bold" font-size="100" fill="#ffe6a5" transform="translate(333.52,1004.29) scale(0.4115,0.0932)">G</text>
<text x="0" y="0" font-family='"Liberation Sans", sans-serif' font-weight="bold" font-size="100" fill="#34429a" transform="translate(361.84,982.10) scale(0.4247,1.2322)">C</text>
<text x="0" y="0" font-family='"Liberation Sans", sans-serif' font-weight="bold" font-size="100" fill="#8ccb8e" transform="translate(362.55,1012.61) scale(0.4139,0.4173)">A</text>
<text x="0" y="0" font-family='"Liberation Sans", sans-serif' font-weight="bold" font-size="100" fill="#ffe6a5" transform="translate(361.89,1042.37) scale(0.4115,0.4176)">G</text>
<text x="0" y="0" font-family='"Liberation Sans", sans-serif' font-weight="bold" font-size="100" fill="#cb868a" transform="translate(363.05,1071.74) scale(0.4716,0.4123)">T</text>
<text x="0" y="0" font-family='"Liberation Sans", sans-serif' font-weight="bold" font-size="100" fill="#3db54a" transform="translate(390.92,983.30) scale(0.4139,1.2681)">A</text>
<text x="0" y="0" font-family='"Liberation Sans", sans-serif' font-weight="bold" font-size="100" fill="#8a88c4" transform="translate(390.21,1013.23) scale(0.4247,0.4200)">C</text>
<text x="0" y="0" font-family='"Liberation Sans", sans-serif' font-weight="bold" font-size="100" fill="#ffe6a5" transform="translate(390.26,1042.38) scale(0.4115,0.4031)">G</text>
<text x="0" y="0" font-family='"Liberation Sans", sans-serif' font-weight="bold" font-size="100" fill="#cb868a" transform="translate(391.42,1071.74) scale(0.4716,0.4123)">T</text>
<text x="0" y="0" font-family='"Liberation Sans", sans-serif' font-weight="bold" font-size="100" fill="#34429a" transform="translate(418.58,982.10) scale(0.4247,1.2322)">C</text>
<text x="0" y="0" font-family='"Liberation Sans", sans-serif' font-weight="bold" font-size="100" fill="#8ccb8e" transform="translate(419.29,1012.61) scale(0.4139,0.4173)">A</text>
<text x="0" y="0" font-family='"Liberation Sans", sans-serif' font-weight="bold" font-size="100" fill="#ffe6a5" transform="translate(418.63,1042.37) scale(0.4115,0.4176)">G</text>
<text x="0" y="0" font-family='"Liberation Sans", sans-serif' font-weight="bold" font-size="100" fill="#cb868a" transform="translate(419.79,1071.74) scale(0.4716,0.4123)">T</text>
<text x="0" y="0" font-family='"Liberation Sans", sans-serif' font-weight="bold" font-size="100" fill="#ce2027" transform="translate(448.16,983.30) scale(0.4716,0.3363)">T</text>
<text x="0" y="0" font-family='"Liberation Sans", sans-serif' font-weight="bold" font-size="100" fill="#34429a" transform="translate(446.95,959.19) scale(0.4247,0.9950)">C</text>
<text x="0" y="0" font-family='"Liberation Sans", sans-serif' font-weight="bold" font-size="100" fill="#8ccb8e" transform="translate(447.66,1030.95) scale(0.4139,0.6839)">A</text>
<text x="0" y="0" font-family='"Liberation Sans", sans-serif' font-weight="bold" font-size="100" fill="#ffe6a5" transform="translate(447.00,1077.10) scale(0.4115,0.6524)">G</text>
<text x="0" y="0" font-family='"Liberation Sans", sans-serif' font-weight="bold" font-size="100" fill="#34429a" transform="translate(475.32,982.54) scale(0.4247,0.7771)">C</text>
<text x="0" y="0" font-family='"Liberation Sans", sans-serif' font-weight="bold" font-size="100" fill="#ce2027" transform="translate(476.53,928.28) scale(0.4716,0.8720)">T</text>
<text x="0" y="0" font-family='"Liberation Sans", sans-serif' font-weight="bold" font-size="100" fill="#8ccb8e" transform="translate(476.03,1041.75) scale(0.4139,0.8408)">A</text>
<text x="0" y="0" font-family='"Liberation Sans", sans-serif' font-weight="bold" font-size="100" fill="#ffe6a5" transform="translate(475.37,1098.21) scale(0.4115,0.8001)">G</text>
<text x="0" y="0" font-family='"Liberation Sans", sans-serif' font-weight="bold" font-size="100" fill="#fbb116" transform="translate(503.74,983.25) scale(0.4115,0.0484)">G</text>
<text x="0" y="0" font-family='"Liberation Sans", sans-serif' font-weight="bold" font-size="100" fill="#34429a" transform="translate(503.69,979.64) scale(0.4247,0.2372)">C</text>
<text x="0" y="0" font-family='"Liberation Sans", sans-serif' font-weight="bold" font-size="100" fill="#ce2027" transform="translate(504.90,963.07) scale(0.4716,0.6876)">T</text>
<text x="0" y="0" font-family='"Liberation Sans", sans-serif' font-weight="bold" font-size="100" fill="#8ccb8e" transform="translate(504.40,1052.72) scale(0.4139,1.0003)">A</text>
<text x="0" y="0" font-family='"Liberation Sans", sans-serif' font-weight="bold" font-size="100" fill="#34429a" transform="translate(532.06,982.98) scale(0.4247,0.3268)">C</text>
<text x="0" y="0" font-family='"Liberation Sans", sans-serif' font-weight="bold" font-size="100" fill="#cb868a" transform="translate(533.27,988.78) scale(0.4716,0.0710)">T</text>
<text x="0" y="0" font-family='"Liberation Sans", sans-serif' font-weight="bold" font-size="100" fill="#8ccb8e" transform="translate(532.77,1005.75) scale(0.4139,0.2379)">A</text>
<text x="0" y="0" font-family='"Liberation Sans", sans-serif' font-weight="bold" font-size="100" fill="#34429a" transform="translate(560.43,983.26) scale(0.4247,0.0363)">C</text>
<text x="0" y="0" font-family='"Liberation Sans", sans-serif' font-weight="bold" font-size="100" fill="#3db54a" transform="translate(561.14,980.73) scale(0.4139,0.4858)">A</text>
<text x="0" y="0" font-family='"Liberation Sans", sans-serif' font-weight="bold" font-size="100" fill="#ce2027" transform="translate(561.64,947.31) scale(0.4716,0.5830)">T</text>
<text x="0" y="0" font-family='"Liberation Sans", sans-serif' font-weight="bold" font-size="100" fill="#ffe6a5" transform="translate(560.48,1059.21) scale(0.4115,1.0785)">G</text>
<text x="0" y="0" font-family='"Liberation Sans", sans-serif' font-weight="bold" font-size="100" fill="#fbb116" transform="translate(588.85,982.10) scale(0.4115,1.2322)">G</text>
<text x="0" y="0" font-family='"Liberation Sans", sans-serif' font-weight="bold" font-size="100" fill="#8ccb8e" transform="translate(589.51,1012.61) scale(0.4139,0.4173)">A</text>
<text x="0" y="0" font-family='"Liberation Sans", sans-serif' font-weight="bold" font-size="100" fill="#8a88c4" transform="translate(588.80,1042.37) scale(0.4247,0.4176)">C</text>
<text x="0" y="0" font-family='"Liberation Sans", sans-serif' font-weight="bold" font-size="100" fill="#cb868a" transform="translate(590.01,1071.74) scale(0.4716,0.4123)">T</text>
<text x="0" y="0" font-family='"Liberation Sans", sans-serif' font-weight="bold" font-size="100" fill="#fbb116" transform="translate(617.22,982.10) scale(0.4115,1.2322)">G</text>
<text x="0" y="0" font-family='"Liberation Sans", sans-serif' font-weight="bold" font-size="100" fill="#8ccb8e" transform="translate(617.88,1012.61) scale(0.4139,0.4173)">A</text>
<text x="0" y="0" font-family='"Liberation Sans", sans-serif' font-weight="bold" font-size="100" fill="#8a88c4" transform="translate(617.17,1042.37) scale(0.4247,0.4176)">C</text>
<text x="0" y="0" font-family='"Liberation Sans", sans-serif' font-weight="bold" font-size="100" fill="#cb868a" transform="translate(618.38,1071.74) scale(0.4716,0.4123)">T</text>
<rect x="249.20" y="863.30" width="1.00" height="240.50" fill="#000"/>
<rect x="249.20" y="1102.80" width="397.70" height="1.00" fill="#000"/>
<line x1="249.7" y1="983.3" x2="646.9" y2="983.3" stroke="#000" stroke-width="1.1" stroke-dasharray="3.2 1.1 1 1.1"/>
<rect x="242.00" y="1102.78" width="7.50" height="1.00" fill="#000"/>
<text x="224.60" y="1108.88" font-family='"Liberation Sans", sans-serif' font-weight="bold" font-size="16.00" textLength="15.99" lengthAdjust="spacingAndGlyphs" fill="#000">-7</text>
<rect x="242.00" y="1085.64" width="7.50" height="1.00" fill="#000"/>
<text x="224.60" y="1091.74" font-family='"Liberation Sans", sans-serif' font-weight="bold" font-size="16.00" textLength="15.84" lengthAdjust="spacingAndGlyphs" fill="#000">-6</text>
<rect x="242.00" y="1068.50" width="7.50" height="1.00" fill="#000"/>
<text x="224.61" y="1074.60" font-family='"Liberation Sans", sans-serif' font-weight="bold" font-size="16.00" textLength="15.68" lengthAdjust="spacingAndGlyphs" fill="#000">-5</text>
<rect x="242.00" y="1051.36" width="7.50" height="1.00" fill="#000"/>
<text x="224.63" y="1057.46" font-family='"Liberation Sans", sans-serif' font-weight="bold" font-size="16.00" textLength="15.26" lengthAdjust="spacingAndGlyphs" fill="#000">-4</text>
<rect x="242.00" y="1034.22" width="7.50" height="1.00" fill="#000"/>
<text x="224.60" y="1040.32" font-family='"Liberation Sans", sans-serif' font-weight="bold" font-size="16.00" textLength="15.84" lengthAdjust="spacingAndGlyphs" fill="#000">-3</text>
<rect x="242.00" y="1017.08" width="7.50" height="1.00" fill="#000"/>
<text x="224.60" y="1023.18" font-family='"Liberation Sans", sans-serif' font-weight="bold" font-size="16.00" textLength="15.92" lengthAdjust="spacingAndGlyphs" fill="#000">-2</text>
<rect x="242.00" y="999.94" width="7.50" height="1.00" fill="#000"/>
<text x="224.61" y="1006.04" font-family='"Liberation Sans", sans-serif' font-weight="bold" font-size="16.00" textLength="15.68" lengthAdjust="spacingAndGlyphs" fill="#000">-1</text>
<rect x="242.00" y="982.80" width="7.50" height="1.00" fill="#000"/>
<text x="232.22" y="988.90" font-family='"Liberation Sans", sans-serif' font-weight="bold" font-size="16.00" textLength="8.19" lengthAdjust="spacingAndGlyphs" fill="#000">0</text>
<rect x="242.00" y="965.66" width="7.50" height="1.00" fill="#000"/>
<text x="231.85" y="971.76" font-family='"Liberation Sans", sans-serif' font-weight="bold" font-size="16.00" textLength="8.37" lengthAdjust="spacingAndGlyphs" fill="#000">1</text>
<rect x="242.00" y="948.52" width="7.50" height="1.00" fill="#000"/>
<text x="232.30" y="954.62" font-family='"Liberation Sans", sans-serif' font-weight="bold" font-size="16.00" textLength="8.09" lengthAdjust="spacingAndGlyphs" fill="#000">2</text>
<rect x="242.00" y="931.38" width="7.50" height="1.00" fill="#000"/>
<text x="232.48" y="937.48" font-family='"Liberation Sans", sans-serif' font-weight="bold" font-size="16.00" textLength="7.83" lengthAdjust="spacingAndGlyphs" fill="#000">3</text>
<rect x="242.00" y="914.24" width="7.50" height="1.00" fill="#000"/>
<text x="232.60" y="920.34" font-family='"Liberation Sans", sans-serif' font-weight="bold" font-size="16.00" textLength="7.27" lengthAdjust="spacingAndGlyphs" fill="#000">4</text>
<rect x="242.00" y="897.10" width="7.50" height="1.00" fill="#000"/>
<text x="232.37" y="903.20" font-family='"Liberation Sans", sans-serif' font-weight="bold" font-size="16.00" textLength="7.82" lengthAdjust="spacingAndGlyphs" fill="#000">5</text>
<rect x="242.00" y="879.96" width="7.50" height="1.00" fill="#000"/>
<text x="232.27" y="886.06" font-family='"Liberation Sans", sans-serif' font-weight="bold" font-size="16.00" textLength="8.05" lengthAdjust="spacingAndGlyphs" fill="#000">6</text>
<rect x="242.00" y="862.82" width="7.50" height="1.00" fill="#000"/>
<text x="232.16" y="868.92" font-family='"Liberation Sans", sans-serif' font-weight="bold" font-size="16.00" textLength="8.30" lengthAdjust="spacingAndGlyphs" fill="#000">7</text>
<text x="-0.98" y="0" font-family='"Liberation Sans", sans-serif' font-weight="bold" font-size="15.60" textLength="8.68" lengthAdjust="spacingAndGlyphs" transform="translate(270.19,1113.76) rotate(-90)">1</text>
<text x="-0.54" y="0" font-family='"Liberation Sans", sans-serif' font-weight="bold" font-size="15.60" textLength="8.68" lengthAdjust="spacingAndGlyphs" transform="translate(298.56,1114.01) rotate(-90)">2</text>
<text x="-0.36" y="0" font-family='"Liberation Sans", sans-serif' font-weight="bold" font-size="15.60" textLength="8.68" lengthAdjust="spacingAndGlyphs" transform="translate(326.93,1114.25) rotate(-90)">3</text>
<text x="-0.24" y="0" font-family='"Liberation Sans", sans-serif' font-weight="bold" font-size="15.60" textLength="8.68" lengthAdjust="spacingAndGlyphs" transform="translate(355.30,1114.86) rotate(-90)">4</text>
<text x="-0.48" y="0" font-family='"Liberation Sans", sans-serif' font-weight="bold" font-size="15.60" textLength="8.68" lengthAdjust="spacingAndGlyphs" transform="translate(383.67,1114.26) rotate(-90)">5</text>
<text x="-0.57" y="0" font-family='"Liberation Sans", sans-serif' font-weight="bold" font-size="15.60" textLength="8.68" lengthAdjust="spacingAndGlyphs" transform="translate(412.04,1114.04) rotate(-90)">6</text>
<text x="-0.67" y="0" font-family='"Liberation Sans", sans-serif' font-weight="bold" font-size="15.60" textLength="8.68" lengthAdjust="spacingAndGlyphs" transform="translate(440.41,1113.82) rotate(-90)">7</text>
<text x="-0.50" y="0" font-family='"Liberation Sans", sans-serif' font-weight="bold" font-size="15.60" textLength="8.68" lengthAdjust="spacingAndGlyphs" transform="translate(468.78,1114.20) rotate(-90)">8</text>
<text x="-0.54" y="0" font-family='"Liberation Sans", sans-serif' font-weight="bold" font-size="15.60" textLength="8.68" lengthAdjust="spacingAndGlyphs" transform="translate(497.15,1114.06) rotate(-90)">9</text>
<text x="-0.98" y="0" font-family='"Liberation Sans", sans-serif' font-weight="bold" font-size="15.60" textLength="17.35" lengthAdjust="spacingAndGlyphs" transform="translate(525.51,1122.23) rotate(-90)">10</text>
<text x="-0.98" y="0" font-family='"Liberation Sans", sans-serif' font-weight="bold" font-size="15.60" textLength="17.35" lengthAdjust="spacingAndGlyphs" transform="translate(553.88,1122.44) rotate(-90)">11</text>
<text x="-0.98" y="0" font-family='"Liberation Sans", sans-serif' font-weight="bold" font-size="15.60" textLength="17.35" lengthAdjust="spacingAndGlyphs" transform="translate(582.25,1122.24) rotate(-90)">12</text>
<text x="-0.98" y="0" font-family='"Liberation Sans", sans-serif' font-weight="bold" font-size="15.60" textLength="17.35" lengthAdjust="spacingAndGlyphs" transform="translate(610.62,1122.31) rotate(-90)">13</text>
<text x="-0.98" y="0" font-family='"Liberation Sans", sans-serif' font-weight="bold" font-size="15.60" textLength="17.35" lengthAdjust="spacingAndGlyphs" transform="translate(638.99,1122.79) rotate(-90)">14</text>
<text x="-0.3" y="0" font-family='"Liberation Sans", sans-serif' font-weight="bold" font-size="16.4" transform="translate(210.4,1014.2) rotate(-90)"><tspan font-weight="normal">ΔΔ</tspan>G/RT</text>
<text x="0" y="0" font-family='"Liberation Sans", sans-serif' font-weight="bold" font-size="100" fill="#3953a4" transform="translate(311.79,1322.19) scale(0.2814,0.0117)">C</text>
<text x="0" y="0" font-family='"Liberation Sans", sans-serif' font-weight="bold" font-size="100" fill="#ed1c24" transform="translate(312.59,1321.37) scale(0.3125,0.0256)">T</text>
<text x="0" y="0" font-family='"Liberation Sans", sans-serif' font-weight="bold" font-size="100" fill="#f9a51b" transform="translate(311.82,1319.58) scale(0.2727,0.0220)">G</text>
<text x="0" y="0" font-family='"Liberation Sans", sans-serif' font-weight="bold" font-size="100" fill="#108442" transform="translate(312.26,1318.05) scale(0.2743,0.0377)">A</text>
<text x="0" y="0" font-family='"Liberation Sans", sans-serif' font-weight="bold" font-size="100" fill="#108442" transform="translate(331.60,1322.20) scale(0.2743,0.0830)">A</text>
<text x="0" y="0" font-family='"Liberation Sans", sans-serif' font-weight="bold" font-size="100" fill="#3953a4" transform="translate(331.13,1316.41) scale(0.2814,0.0806)">C</text>
<text x="0" y="0" font-family='"Liberation Sans", sans-serif' font-weight="bold" font-size="100" fill="#f9a51b" transform="translate(331.16,1310.68) scale(0.2727,0.1026)">G</text>
<text x="0" y="0" font-family='"Liberation Sans", sans-serif' font-weight="bold" font-size="100" fill="#ed1c24" transform="translate(331.93,1303.52) scale(0.3125,0.5431)">T</text>
<text x="0" y="0" font-family='"Liberation Sans", sans-serif' font-weight="bold" font-size="100" fill="#3953a4" transform="translate(350.47,1322.19) scale(0.2814,0.0117)">C</text>
<text x="0" y="0" font-family='"Liberation Sans", sans-serif' font-weight="bold" font-size="100" fill="#f9a51b" transform="translate(350.50,1321.34) scale(0.2727,0.0323)">G</text>
<text x="0" y="0" font-family='"Liberation Sans", sans-serif' font-weight="bold" font-size="100" fill="#ed1c24" transform="translate(351.27,1319.09) scale(0.3125,0.0302)">T</text>
<text x="0" y="0" font-family='"Liberation Sans", sans-serif' font-weight="bold" font-size="100" fill="#108442" transform="translate(350.94,1317.01) scale(0.2743,0.0377)">A</text>
<text x="0" y="0" font-family='"Liberation Sans", sans-serif' font-weight="bold" font-size="100" fill="#3953a4" transform="translate(369.81,1322.19) scale(0.2814,0.0117)">C</text>
<text x="0" y="0" font-family='"Liberation Sans", sans-serif' font-weight="bold" font-size="100" fill="#f9a51b" transform="translate(369.84,1321.34) scale(0.2727,0.0323)">G</text>
<text x="0" y="0" font-family='"Liberation Sans", sans-serif' font-weight="bold" font-size="100" fill="#108442" transform="translate(370.28,1319.09) scale(0.2743,0.0453)">A</text>
<text x="0" y="0" font-family='"Liberation Sans", sans-serif' font-weight="bold" font-size="100" fill="#ed1c24" transform="translate(370.61,1315.97) scale(0.3125,0.0377)">T</text>
<text x="0" y="0" font-family='"Liberation Sans", sans-serif' font-weight="bold" font-size="100" fill="#3953a4" transform="translate(389.15,1322.19) scale(0.2814,0.0117)">C</text>
<text x="0" y="0" font-family='"Liberation Sans", sans-serif' font-weight="bold" font-size="100" fill="#ed1c24" transform="translate(389.95,1321.37) scale(0.3125,0.0332)">T</text>
<text x="0" y="0" font-family='"Liberation Sans", sans-serif' font-weight="bold" font-size="100" fill="#108442" transform="translate(389.62,1319.09) scale(0.2743,0.0302)">A</text>
<text x="0" y="0" font-family='"Liberation Sans", sans-serif' font-weight="bold" font-size="100" fill="#f9a51b" transform="translate(389.18,1316.98) scale(0.2727,0.0293)">G</text>
<text x="0" y="0" font-family='"Liberation Sans", sans-serif' font-weight="bold" font-size="100" fill="#108442" transform="translate(408.96,1322.20) scale(0.2743,0.0513)">A</text>
<text x="0" y="0" font-family='"Liberation Sans", sans-serif' font-weight="bold" font-size="100" fill="#f9a51b" transform="translate(408.52,1318.61) scale(0.2727,0.0645)">G</text>
<text x="0" y="0" font-family='"Liberation Sans", sans-serif' font-weight="bold" font-size="100" fill="#3953a4" transform="translate(408.49,1314.03) scale(0.2814,0.0704)">C</text>
<text x="0" y="0" font-family='"Liberation Sans", sans-serif' font-weight="bold" font-size="100" fill="#ed1c24" transform="translate(409.29,1309.12) scale(0.3125,0.2022)">T</text>
<text x="0" y="0" font-family='"Liberation Sans", sans-serif' font-weight="bold" font-size="100" fill="#3953a4" transform="translate(427.83,1322.17) scale(0.2814,0.0293)">C</text>
<text x="0" y="0" font-family='"Liberation Sans", sans-serif' font-weight="bold" font-size="100" fill="#ed1c24" transform="translate(428.63,1320.12) scale(0.3125,0.0558)">T</text>
<text x="0" y="0" font-family='"Liberation Sans", sans-serif' font-weight="bold" font-size="100" fill="#f9a51b" transform="translate(427.86,1316.19) scale(0.2727,0.0968)">G</text>
<text x="0" y="0" font-family='"Liberation Sans", sans-serif' font-weight="bold" font-size="100" fill="#108442" transform="translate(428.30,1309.43) scale(0.2743,0.1584)">A</text>
<text x="0" y="0" font-family='"Liberation Sans", sans-serif' font-weight="bold" font-size="100" fill="#108442" transform="translate(447.64,1322.20) scale(0.2743,0.0302)">A</text>
<text x="0" y="0" font-family='"Liberation Sans", sans-serif' font-weight="bold" font-size="100" fill="#f9a51b" transform="translate(447.20,1320.10) scale(0.2727,0.0293)">G</text>
<text x="0" y="0" font-family='"Liberation Sans", sans-serif' font-weight="bold" font-size="100" fill="#ed1c24" transform="translate(447.97,1318.05) scale(0.3125,0.0256)">T</text>
<text x="0" y="0" font-family='"Liberation Sans", sans-serif' font-weight="bold" font-size="100" fill="#ed1c24" transform="translate(467.31,1322.20) scale(0.3125,0.0121)">T</text>
<text x="0" y="0" font-family='"Liberation Sans", sans-serif' font-weight="bold" font-size="100" fill="#108442" transform="translate(466.98,1321.37) scale(0.2743,0.0121)">A</text>
<text x="0" y="0" font-family='"Liberation Sans", sans-serif' font-weight="bold" font-size="100" fill="#108442" transform="translate(486.32,1322.20) scale(0.2743,0.0664)">A</text>
<text x="0" y="0" font-family='"Liberation Sans", sans-serif' font-weight="bold" font-size="100" fill="#f9a51b" transform="translate(485.88,1317.56) scale(0.2727,0.0792)">G</text>
<text x="0" y="0" font-family='"Liberation Sans", sans-serif' font-weight="bold" font-size="100" fill="#3953a4" transform="translate(485.85,1311.92) scale(0.2814,0.1100)">C</text>
<text x="0" y="0" font-family='"Liberation Sans", sans-serif' font-weight="bold" font-size="100" fill="#ed1c24" transform="translate(486.65,1304.24) scale(0.3125,0.4074)">T</text>
<text x="0" y="0" font-family='"Liberation Sans", sans-serif' font-weight="bold" font-size="100" fill="#3953a4" transform="translate(505.19,1322.12) scale(0.2814,0.0806)">C</text>
<text x="0" y="0" font-family='"Liberation Sans", sans-serif' font-weight="bold" font-size="100" fill="#ed1c24" transform="translate(505.99,1316.49) scale(0.3125,0.1071)">T</text>
<text x="0" y="0" font-family='"Liberation Sans", sans-serif' font-weight="bold" font-size="100" fill="#108442" transform="translate(505.66,1309.12) scale(0.2743,0.1071)">A</text>
<text x="0" y="0" font-family='"Liberation Sans", sans-serif' font-weight="bold" font-size="100" fill="#f9a51b" transform="translate(505.22,1300.77) scale(0.2727,1.0013)">G</text>
<text x="0" y="0" font-family='"Liberation Sans", sans-serif' font-weight="bold" font-size="100" fill="#108442" transform="translate(525.00,1322.20) scale(0.2743,0.0664)">A</text>
<text x="0" y="0" font-family='"Liberation Sans", sans-serif' font-weight="bold" font-size="100" fill="#3953a4" transform="translate(524.53,1317.54) scale(0.2814,0.0953)">C</text>
<text x="0" y="0" font-family='"Liberation Sans", sans-serif' font-weight="bold" font-size="100" fill="#ed1c24" transform="translate(525.33,1310.89) scale(0.3125,0.0966)">T</text>
<text x="0" y="0" font-family='"Liberation Sans", sans-serif' font-weight="bold" font-size="100" fill="#f9a51b" transform="translate(524.56,1302.80) scale(0.2727,1.4822)">G</text>
<text x="0" y="0" font-family='"Liberation Sans", sans-serif' font-weight="bold" font-size="100" fill="#108442" transform="translate(544.34,1322.20) scale(0.2743,0.0302)">A</text>
<text x="0" y="0" font-family='"Liberation Sans", sans-serif' font-weight="bold" font-size="100" fill="#f9a51b" transform="translate(543.90,1320.07) scale(0.2727,0.0513)">G</text>
<text x="0" y="0" font-family='"Liberation Sans", sans-serif' font-weight="bold" font-size="100" fill="#3953a4" transform="translate(543.87,1316.43) scale(0.2814,0.0630)">C</text>
<text x="0" y="0" font-family='"Liberation Sans", sans-serif' font-weight="bold" font-size="100" fill="#ed1c24" transform="translate(544.67,1312.03) scale(0.3125,0.1132)">T</text>
<text x="0" y="0" font-family='"Liberation Sans", sans-serif' font-weight="bold" font-size="100" fill="#ed1c24" transform="translate(583.35,1322.20) scale(0.3125,0.0181)">T</text>
<text x="0" y="0" font-family='"Liberation Sans", sans-serif' font-weight="bold" font-size="100" fill="#f9a51b" transform="translate(582.58,1320.94) scale(0.2727,0.0176)">G</text>
<text x="0" y="0" font-family='"Liberation Sans", sans-serif' font-weight="bold" font-size="100" fill="#3953a4" transform="translate(582.55,1319.69) scale(0.2814,0.0176)">C</text>
<text x="0" y="0" font-family='"Liberation Sans", sans-serif' font-weight="bold" font-size="100" fill="#108442" transform="translate(583.02,1318.46) scale(0.2743,0.0211)">A</text>
<text x="0" y="0" font-family='"Liberation Sans", sans-serif' font-weight="bold" font-size="100" fill="#3953a4" transform="translate(601.89,1322.17) scale(0.2814,0.0337)">C</text>
<text x="0" y="0" font-family='"Liberation Sans", sans-serif' font-weight="bold" font-size="100" fill="#108442" transform="translate(602.36,1319.81) scale(0.2743,0.0407)">A</text>
<text x="0" y="0" font-family='"Liberation Sans", sans-serif' font-weight="bold" font-size="100" fill="#f9a51b" transform="translate(601.92,1316.95) scale(0.2727,0.0586)">G</text>
<text x="0" y="0" font-family='"Liberation Sans", sans-serif' font-weight="bold" font-size="100" fill="#ed1c24" transform="translate(602.69,1312.86) scale(0.3125,0.1298)">T</text>
<text x="0" y="0" font-family='"Liberation Sans", sans-serif' font-weight="bold" font-size="100" fill="#f9a51b" transform="translate(621.26,1322.17) scale(0.2727,0.0293)">G</text>
<text x="0" y="0" font-family='"Liberation Sans", sans-serif' font-weight="bold" font-size="100" fill="#ed1c24" transform="translate(622.03,1320.12) scale(0.3125,0.0272)">T</text>
<text x="0" y="0" font-family='"Liberation Sans", sans-serif' font-weight="bold" font-size="100" fill="#108442" transform="translate(621.70,1318.26) scale(0.2743,0.0256)">A</text>
<text x="0" y="0" font-family='"Liberation Sans", sans-serif' font-weight="bold" font-size="100" fill="#3953a4" transform="translate(640.57,1322.13) scale(0.2814,0.0674)">C</text>
<text x="0" y="0" font-family='"Liberation Sans", sans-serif' font-weight="bold" font-size="100" fill="#ed1c24" transform="translate(641.37,1317.43) scale(0.3125,0.0890)">T</text>
<text x="0" y="0" font-family='"Liberation Sans", sans-serif' font-weight="bold" font-size="100" fill="#108442" transform="translate(641.04,1311.30) scale(0.2743,0.1433)">A</text>
<text x="0" y="0" font-family='"Liberation Sans", sans-serif' font-weight="bold" font-size="100" fill="#f9a51b" transform="translate(640.60,1300.65) scale(0.2727,0.8122)">G</text>
<text x="0" y="0" font-family='"Liberation Sans", sans-serif' font-weight="bold" font-size="100" fill="#ed1c24" transform="translate(660.71,1322.20) scale(0.3125,0.0347)">T</text>
<text x="0" y="0" font-family='"Liberation Sans", sans-serif' font-weight="bold" font-size="100" fill="#3953a4" transform="translate(659.91,1319.73) scale(0.2814,0.0865)">C</text>
<text x="0" y="0" font-family='"Liberation Sans", sans-serif' font-weight="bold" font-size="100" fill="#f9a51b" transform="translate(659.94,1313.57) scale(0.2727,0.1246)">G</text>
<text x="0" y="0" font-family='"Liberation Sans", sans-serif' font-weight="bold" font-size="100" fill="#108442" transform="translate(660.38,1304.87) scale(0.2743,0.3183)">A</text>
<text x="0" y="0" font-family='"Liberation Sans", sans-serif' font-weight="bold" font-size="100" fill="#108442" transform="translate(679.72,1322.20) scale(0.2743,0.0347)">A</text>
<text x="0" y="0" font-family='"Liberation Sans", sans-serif' font-weight="bold" font-size="100" fill="#ed1c24" transform="translate(680.05,1319.81) scale(0.3125,0.0407)">T</text>
<text x="0" y="0" font-family='"Liberation Sans", sans-serif' font-weight="bold" font-size="100" fill="#f9a51b" transform="translate(679.28,1316.91) scale(0.2727,0.1012)">G</text>
<text x="0" y="0" font-family='"Liberation Sans", sans-serif' font-weight="bold" font-size="100" fill="#3953a4" transform="translate(679.25,1309.70) scale(0.2814,0.1481)">C</text>
<text x="0" y="0" font-family='"Liberation Sans", sans-serif' font-weight="bold" font-size="100" fill="#3953a4" transform="translate(698.59,1322.16) scale(0.2814,0.0367)">C</text>
<text x="0" y="0" font-family='"Liberation Sans", sans-serif' font-weight="bold" font-size="100" fill="#108442" transform="translate(699.06,1319.61) scale(0.2743,0.0483)">A</text>
<text x="0" y="0" font-family='"Liberation Sans", sans-serif' font-weight="bold" font-size="100" fill="#ed1c24" transform="translate(699.39,1316.28) scale(0.3125,0.0724)">T</text>
<text x="0" y="0" font-family='"Liberation Sans", sans-serif' font-weight="bold" font-size="100" fill="#f9a51b" transform="translate(698.62,1309.28) scale(0.2727,2.0745)">G</text>
<text x="0" y="0" font-family='"Liberation Sans", sans-serif' font-weight="bold" font-size="100" fill="#108442" transform="translate(718.40,1322.20) scale(0.2743,0.0664)">A</text>
<text x="0" y="0" font-family='"Liberation Sans", sans-serif' font-weight="bold" font-size="100" fill="#3953a4" transform="translate(717.93,1317.57) scale(0.2814,0.0674)">C</text>
<text x="0" y="0" font-family='"Liberation Sans", sans-serif' font-weight="bold" font-size="100" fill="#f9a51b" transform="translate(717.96,1312.76) scale(0.2727,0.1026)">G</text>
<text x="0" y="0" font-family='"Liberation Sans", sans-serif' font-weight="bold" font-size="100" fill="#ed1c24" transform="translate(718.73,1305.59) scale(0.3125,1.6445)">T</text>
<text x="0" y="0" font-family='"Liberation Sans", sans-serif' font-weight="bold" font-size="100" fill="#108442" transform="translate(737.74,1322.20) scale(0.2743,0.0754)">A</text>
<text x="0" y="0" font-family='"Liberation Sans", sans-serif' font-weight="bold" font-size="100" fill="#f9a51b" transform="translate(737.30,1316.93) scale(0.2727,0.0806)">G</text>
<text x="0" y="0" font-family='"Liberation Sans", sans-serif' font-weight="bold" font-size="100" fill="#ed1c24" transform="translate(738.07,1311.30) scale(0.3125,0.1132)">T</text>
<text x="0" y="0" font-family='"Liberation Sans", sans-serif' font-weight="bold" font-size="100" fill="#3953a4" transform="translate(737.27,1302.20) scale(0.2814,1.3429)">C</text>
<text x="0" y="0" font-family='"Liberation Sans", sans-serif' font-weight="bold" font-size="100" fill="#ed1c24" transform="translate(757.41,1322.20) scale(0.3125,0.0151)">T</text>
<text x="0" y="0" font-family='"Liberation Sans", sans-serif' font-weight="bold" font-size="100" fill="#108442" transform="translate(757.08,1321.16) scale(0.2743,0.0302)">A</text>
<text x="0" y="0" font-family='"Liberation Sans", sans-serif' font-weight="bold" font-size="100" fill="#108442" transform="translate(776.42,1322.20) scale(0.2743,0.0302)">A</text>
<text x="0" y="0" font-family='"Liberation Sans", sans-serif' font-weight="bold" font-size="100" fill="#f9a51b" transform="translate(775.98,1320.09) scale(0.2727,0.0352)">G</text>
<text x="0" y="0" font-family='"Liberation Sans", sans-serif' font-weight="bold" font-size="100" fill="#3953a4" transform="translate(775.95,1317.56) scale(0.2814,0.0792)">C</text>
<text x="0" y="0" font-family='"Liberation Sans", sans-serif' font-weight="bold" font-size="100" fill="#ed1c24" transform="translate(776.75,1312.03) scale(0.3125,0.0830)">T</text>
<text x="0" y="0" font-family='"Liberation Sans", sans-serif' font-weight="bold" font-size="100" fill="#3953a4" transform="translate(795.29,1322.13) scale(0.2814,0.0674)">C</text>
<text x="0" y="0" font-family='"Liberation Sans", sans-serif' font-weight="bold" font-size="100" fill="#f9a51b" transform="translate(795.32,1317.34) scale(0.2727,0.0865)">G</text>
<text x="0" y="0" font-family='"Liberation Sans", sans-serif' font-weight="bold" font-size="100" fill="#108442" transform="translate(795.76,1311.30) scale(0.2743,0.1101)">A</text>
<text x="0" y="0" font-family='"Liberation Sans", sans-serif' font-weight="bold" font-size="100" fill="#ed1c24" transform="translate(796.09,1303.72) scale(0.3125,0.4677)">T</text>
<text x="0" y="0" font-family='"Liberation Sans", sans-serif' font-weight="bold" font-size="100" fill="#ed1c24" transform="translate(815.43,1322.20) scale(0.3125,0.0181)">T</text>
<text x="0" y="0" font-family='"Liberation Sans", sans-serif' font-weight="bold" font-size="100" fill="#108442" transform="translate(815.10,1320.95) scale(0.2743,0.0377)">A</text>
<text x="0" y="0" font-family='"Liberation Sans", sans-serif' font-weight="bold" font-size="100" fill="#108442" transform="translate(834.44,1322.20) scale(0.2743,0.0226)">A</text>
<text x="0" y="0" font-family='"Liberation Sans", sans-serif' font-weight="bold" font-size="100" fill="#ed1c24" transform="translate(834.77,1320.64) scale(0.3125,0.0196)">T</text>
<text x="0" y="0" font-family='"Liberation Sans", sans-serif' font-weight="bold" font-size="100" fill="#ed1c24" transform="translate(854.11,1322.20) scale(0.3125,0.0121)">T</text>
<text x="0" y="0" font-family='"Liberation Sans", sans-serif' font-weight="bold" font-size="100" fill="#ed1c24" transform="translate(873.45,1322.20) scale(0.3125,0.0830)">T</text>
<text x="0" y="0" font-family='"Liberation Sans", sans-serif' font-weight="bold" font-size="100" fill="#3953a4" transform="translate(872.65,1316.42) scale(0.2814,0.0733)">C</text>
<text x="0" y="0" font-family='"Liberation Sans", sans-serif' font-weight="bold" font-size="100" fill="#108442" transform="translate(873.12,1311.30) scale(0.2743,0.1132)">A</text>
<text x="0" y="0" font-family='"Liberation Sans", sans-serif' font-weight="bold" font-size="100" fill="#f9a51b" transform="translate(872.68,1302.20) scale(0.2727,1.3429)">G</text>
<text x="0" y="0" font-family='"Liberation Sans", sans-serif' font-weight="bold" font-size="100" fill="#108442" transform="translate(892.46,1322.20) scale(0.2743,0.0664)">A</text>
<text x="0" y="0" font-family='"Liberation Sans", sans-serif' font-weight="bold" font-size="100" fill="#f9a51b" transform="translate(892.02,1317.58) scale(0.2727,0.0498)">G</text>
<text x="0" y="0" font-family='"Liberation Sans", sans-serif' font-weight="bold" font-size="100" fill="#3953a4" transform="translate(891.99,1314.01) scale(0.2814,0.0938)">C</text>
<text x="0" y="0" font-family='"Liberation Sans", sans-serif' font-weight="bold" font-size="100" fill="#ed1c24" transform="translate(892.79,1307.46) scale(0.3125,0.2474)">T</text>
<text x="0" y="0" font-family='"Liberation Sans", sans-serif' font-weight="bold" font-size="100" fill="#3953a4" transform="translate(911.33,1322.12) scale(0.2814,0.0836)">C</text>
<text x="0" y="0" font-family='"Liberation Sans", sans-serif' font-weight="bold" font-size="100" fill="#f9a51b" transform="translate(911.36,1316.19) scale(0.2727,0.0909)">G</text>
<text x="0" y="0" font-family='"Liberation Sans", sans-serif' font-weight="bold" font-size="100" fill="#108442" transform="translate(911.80,1309.85) scale(0.2743,0.1132)">A</text>
<text x="0" y="0" font-family='"Liberation Sans", sans-serif' font-weight="bold" font-size="100" fill="#ed1c24" transform="translate(912.13,1302.06) scale(0.3125,1.0139)">T</text>
<rect x="302.40" y="1323.00" width="0.80" height="4.00" fill="#222"/>
<text x="299.54" y="1338.60" font-family='"DejaVu Sans", sans-serif' font-weight="normal" font-size="11.60" textLength="6.35" lengthAdjust="spacingAndGlyphs" fill="#111" stroke="#111" stroke-width="0.2" stroke-linejoin="round">1</text>
<rect x="321.74" y="1323.00" width="0.80" height="4.00" fill="#222"/>
<text x="319.09" y="1338.60" font-family='"DejaVu Sans", sans-serif' font-weight="normal" font-size="11.60" textLength="6.37" lengthAdjust="spacingAndGlyphs" fill="#111" stroke="#111" stroke-width="0.2" stroke-linejoin="round">2</text>
<rect x="341.08" y="1323.00" width="0.80" height="4.00" fill="#222"/>
<text x="338.31" y="1338.60" font-family='"DejaVu Sans", sans-serif' font-weight="normal" font-size="11.60" textLength="6.38" lengthAdjust="spacingAndGlyphs" fill="#111" stroke="#111" stroke-width="0.2" stroke-linejoin="round">3</text>
<rect x="360.42" y="1323.00" width="0.80" height="4.00" fill="#222"/>
<text x="357.66" y="1338.60" font-family='"DejaVu Sans", sans-serif' font-weight="normal" font-size="11.60" textLength="6.40" lengthAdjust="spacingAndGlyphs" fill="#111" stroke="#111" stroke-width="0.2" stroke-linejoin="round">4</text>
<rect x="379.76" y="1323.00" width="0.80" height="4.00" fill="#222"/>
<text x="377.03" y="1338.60" font-family='"DejaVu Sans", sans-serif' font-weight="normal" font-size="11.60" textLength="6.37" lengthAdjust="spacingAndGlyphs" fill="#111" stroke="#111" stroke-width="0.2" stroke-linejoin="round">5</text>
<rect x="399.10" y="1323.00" width="0.80" height="4.00" fill="#222"/>
<text x="396.27" y="1338.60" font-family='"DejaVu Sans", sans-serif' font-weight="normal" font-size="11.60" textLength="6.39" lengthAdjust="spacingAndGlyphs" fill="#111" stroke="#111" stroke-width="0.2" stroke-linejoin="round">6</text>
<rect x="418.44" y="1323.00" width="0.80" height="4.00" fill="#222"/>
<text x="415.67" y="1338.60" font-family='"DejaVu Sans", sans-serif' font-weight="normal" font-size="11.60" textLength="6.37" lengthAdjust="spacingAndGlyphs" fill="#111" stroke="#111" stroke-width="0.2" stroke-linejoin="round">7</text>
<rect x="437.78" y="1323.00" width="0.80" height="4.00" fill="#222"/>
<text x="434.99" y="1338.60" font-family='"DejaVu Sans", sans-serif' font-weight="normal" font-size="11.60" textLength="6.39" lengthAdjust="spacingAndGlyphs" fill="#111" stroke="#111" stroke-width="0.2" stroke-linejoin="round">8</text>
<rect x="457.12" y="1323.00" width="0.80" height="4.00" fill="#222"/>
<text x="454.36" y="1338.60" font-family='"DejaVu Sans", sans-serif' font-weight="normal" font-size="11.60" textLength="6.39" lengthAdjust="spacingAndGlyphs" fill="#111" stroke="#111" stroke-width="0.2" stroke-linejoin="round">9</text>
<rect x="476.46" y="1323.00" width="0.80" height="4.00" fill="#222"/>
<text x="470.11" y="1338.60" font-family='"DejaVu Sans", sans-serif' font-weight="normal" font-size="11.60" textLength="13.05" lengthAdjust="spacingAndGlyphs" fill="#111" stroke="#111" stroke-width="0.2" stroke-linejoin="round">10</text>
<rect x="495.80" y="1323.00" width="0.80" height="4.00" fill="#222"/>
<text x="489.59" y="1338.60" font-family='"DejaVu Sans", sans-serif' font-weight="normal" font-size="11.60" textLength="13.05" lengthAdjust="spacingAndGlyphs" fill="#111" stroke="#111" stroke-width="0.2" stroke-linejoin="round">11</text>
<rect x="515.14" y="1323.00" width="0.80" height="4.00" fill="#222"/>
<text x="508.97" y="1338.60" font-family='"DejaVu Sans", sans-serif' font-weight="normal" font-size="11.60" textLength="13.04" lengthAdjust="spacingAndGlyphs" fill="#111" stroke="#111" stroke-width="0.2" stroke-linejoin="round">12</text>
<rect x="534.48" y="1323.00" width="0.80" height="4.00" fill="#222"/>
<text x="528.20" y="1338.60" font-family='"DejaVu Sans", sans-serif' font-weight="normal" font-size="11.60" textLength="13.05" lengthAdjust="spacingAndGlyphs" fill="#111" stroke="#111" stroke-width="0.2" stroke-linejoin="round">13</text>
<rect x="553.82" y="1323.00" width="0.80" height="4.00" fill="#222"/>
<text x="547.42" y="1338.60" font-family='"DejaVu Sans", sans-serif' font-weight="normal" font-size="11.60" textLength="13.05" lengthAdjust="spacingAndGlyphs" fill="#111" stroke="#111" stroke-width="0.2" stroke-linejoin="round">14</text>
<rect x="573.16" y="1323.00" width="0.80" height="4.00" fill="#222"/>
<text x="566.92" y="1338.60" font-family='"DejaVu Sans", sans-serif' font-weight="normal" font-size="11.60" textLength="13.05" lengthAdjust="spacingAndGlyphs" fill="#111" stroke="#111" stroke-width="0.2" stroke-linejoin="round">15</text>
<rect x="592.50" y="1323.00" width="0.80" height="4.00" fill="#222"/>
<text x="586.13" y="1338.60" font-family='"DejaVu Sans", sans-serif' font-weight="normal" font-size="11.60" textLength="13.05" lengthAdjust="spacingAndGlyphs" fill="#111" stroke="#111" stroke-width="0.2" stroke-linejoin="round">16</text>
<rect x="611.84" y="1323.00" width="0.80" height="4.00" fill="#222"/>
<text x="605.59" y="1338.60" font-family='"DejaVu Sans", sans-serif' font-weight="normal" font-size="11.60" textLength="13.05" lengthAdjust="spacingAndGlyphs" fill="#111" stroke="#111" stroke-width="0.2" stroke-linejoin="round">17</text>
<rect x="631.18" y="1323.00" width="0.80" height="4.00" fill="#222"/>
<text x="624.84" y="1338.60" font-family='"DejaVu Sans", sans-serif' font-weight="normal" font-size="11.60" textLength="13.05" lengthAdjust="spacingAndGlyphs" fill="#111" stroke="#111" stroke-width="0.2" stroke-linejoin="round">18</text>
<rect x="650.52" y="1323.00" width="0.80" height="4.00" fill="#222"/>
<text x="644.19" y="1338.60" font-family='"DejaVu Sans", sans-serif' font-weight="normal" font-size="11.60" textLength="13.05" lengthAdjust="spacingAndGlyphs" fill="#111" stroke="#111" stroke-width="0.2" stroke-linejoin="round">19</text>
<rect x="669.86" y="1323.00" width="0.80" height="4.00" fill="#222"/>
<text x="663.70" y="1338.60" font-family='"DejaVu Sans", sans-serif' font-weight="normal" font-size="11.60" textLength="13.06" lengthAdjust="spacingAndGlyphs" fill="#111" stroke="#111" stroke-width="0.2" stroke-linejoin="round">20</text>
<rect x="689.20" y="1323.00" width="0.80" height="4.00" fill="#222"/>
<text x="683.17" y="1338.60" font-family='"DejaVu Sans", sans-serif' font-weight="normal" font-size="11.60" textLength="13.05" lengthAdjust="spacingAndGlyphs" fill="#111" stroke="#111" stroke-width="0.2" stroke-linejoin="round">21</text>
<rect x="708.54" y="1323.00" width="0.80" height="4.00" fill="#222"/>
<text x="702.55" y="1338.60" font-family='"DejaVu Sans", sans-serif' font-weight="normal" font-size="11.60" textLength="13.05" lengthAdjust="spacingAndGlyphs" fill="#111" stroke="#111" stroke-width="0.2" stroke-linejoin="round">22</text>
<rect x="727.88" y="1323.00" width="0.80" height="4.00" fill="#222"/>
<text x="721.79" y="1338.60" font-family='"DejaVu Sans", sans-serif' font-weight="normal" font-size="11.60" textLength="13.06" lengthAdjust="spacingAndGlyphs" fill="#111" stroke="#111" stroke-width="0.2" stroke-linejoin="round">23</text>
<rect x="747.22" y="1323.00" width="0.80" height="4.00" fill="#222"/>
<text x="741.00" y="1338.60" font-family='"DejaVu Sans", sans-serif' font-weight="normal" font-size="11.60" textLength="13.06" lengthAdjust="spacingAndGlyphs" fill="#111" stroke="#111" stroke-width="0.2" stroke-linejoin="round">24</text>
<rect x="766.56" y="1323.00" width="0.80" height="4.00" fill="#222"/>
<text x="760.50" y="1338.60" font-family='"DejaVu Sans", sans-serif' font-weight="normal" font-size="11.60" textLength="13.06" lengthAdjust="spacingAndGlyphs" fill="#111" stroke="#111" stroke-width="0.2" stroke-linejoin="round">25</text>
<rect x="785.90" y="1323.00" width="0.80" height="4.00" fill="#222"/>
<text x="779.72" y="1338.60" font-family='"DejaVu Sans", sans-serif' font-weight="normal" font-size="11.60" textLength="13.06" lengthAdjust="spacingAndGlyphs" fill="#111" stroke="#111" stroke-width="0.2" stroke-linejoin="round">26</text>
<rect x="805.24" y="1323.00" width="0.80" height="4.00" fill="#222"/>
<text x="799.17" y="1338.60" font-family='"DejaVu Sans", sans-serif' font-weight="normal" font-size="11.60" textLength="13.06" lengthAdjust="spacingAndGlyphs" fill="#111" stroke="#111" stroke-width="0.2" stroke-linejoin="round">27</text>
<rect x="824.58" y="1323.00" width="0.80" height="4.00" fill="#222"/>
<text x="818.43" y="1338.60" font-family='"DejaVu Sans", sans-serif' font-weight="normal" font-size="11.60" textLength="13.06" lengthAdjust="spacingAndGlyphs" fill="#111" stroke="#111" stroke-width="0.2" stroke-linejoin="round">28</text>
<rect x="843.92" y="1323.00" width="0.80" height="4.00" fill="#222"/>
<text x="837.78" y="1338.60" font-family='"DejaVu Sans", sans-serif' font-weight="normal" font-size="11.60" textLength="13.06" lengthAdjust="spacingAndGlyphs" fill="#111" stroke="#111" stroke-width="0.2" stroke-linejoin="round">29</text>
<rect x="863.26" y="1323.00" width="0.80" height="4.00" fill="#222"/>
<text x="857.08" y="1338.60" font-family='"DejaVu Sans", sans-serif' font-weight="normal" font-size="11.60" textLength="13.06" lengthAdjust="spacingAndGlyphs" fill="#111" stroke="#111" stroke-width="0.2" stroke-linejoin="round">30</text>
<rect x="882.60" y="1323.00" width="0.80" height="4.00" fill="#222"/>
<text x="876.56" y="1338.60" font-family='"DejaVu Sans", sans-serif' font-weight="normal" font-size="11.60" textLength="13.05" lengthAdjust="spacingAndGlyphs" fill="#111" stroke="#111" stroke-width="0.2" stroke-linejoin="round">31</text>
<rect x="901.94" y="1323.00" width="0.80" height="4.00" fill="#222"/>
<text x="895.94" y="1338.60" font-family='"DejaVu Sans", sans-serif' font-weight="normal" font-size="11.60" textLength="13.05" lengthAdjust="spacingAndGlyphs" fill="#111" stroke="#111" stroke-width="0.2" stroke-linejoin="round">32</text>
<rect x="921.28" y="1323.00" width="0.80" height="4.00" fill="#222"/>
<text x="915.17" y="1338.60" font-family='"DejaVu Sans", sans-serif' font-weight="normal" font-size="11.60" textLength="13.06" lengthAdjust="spacingAndGlyphs" fill="#111" stroke="#111" stroke-width="0.2" stroke-linejoin="round">33</text>
<rect x="290.20" y="1166.20" width="3.80" height="0.80" fill="#222"/>
<text x="267.62" y="1170.80" font-family='"DejaVu Sans", sans-serif' font-weight="normal" font-size="11.60" textLength="18.49" lengthAdjust="spacingAndGlyphs" fill="#111" stroke="#111" stroke-width="0.2" stroke-linejoin="round">1.5</text>
<rect x="290.20" y="1218.10" width="3.80" height="0.80" fill="#222"/>
<text x="267.64" y="1222.70" font-family='"DejaVu Sans", sans-serif' font-weight="normal" font-size="11.60" textLength="18.22" lengthAdjust="spacingAndGlyphs" fill="#111" stroke="#111" stroke-width="0.2" stroke-linejoin="round">1.0</text>
<rect x="290.20" y="1270.10" width="3.80" height="0.80" fill="#222"/>
<text x="268.16" y="1274.70" font-family='"DejaVu Sans", sans-serif' font-weight="normal" font-size="11.60" textLength="17.93" lengthAdjust="spacingAndGlyphs" fill="#111" stroke="#111" stroke-width="0.2" stroke-linejoin="round">0.5</text>
<rect x="290.20" y="1321.80" width="3.80" height="0.80" fill="#222"/>
<text x="268.17" y="1326.40" font-family='"DejaVu Sans", sans-serif' font-weight="normal" font-size="11.60" textLength="17.67" lengthAdjust="spacingAndGlyphs" fill="#111" stroke="#111" stroke-width="0.2" stroke-linejoin="round">0.0</text>
</svg>
</body></html>
